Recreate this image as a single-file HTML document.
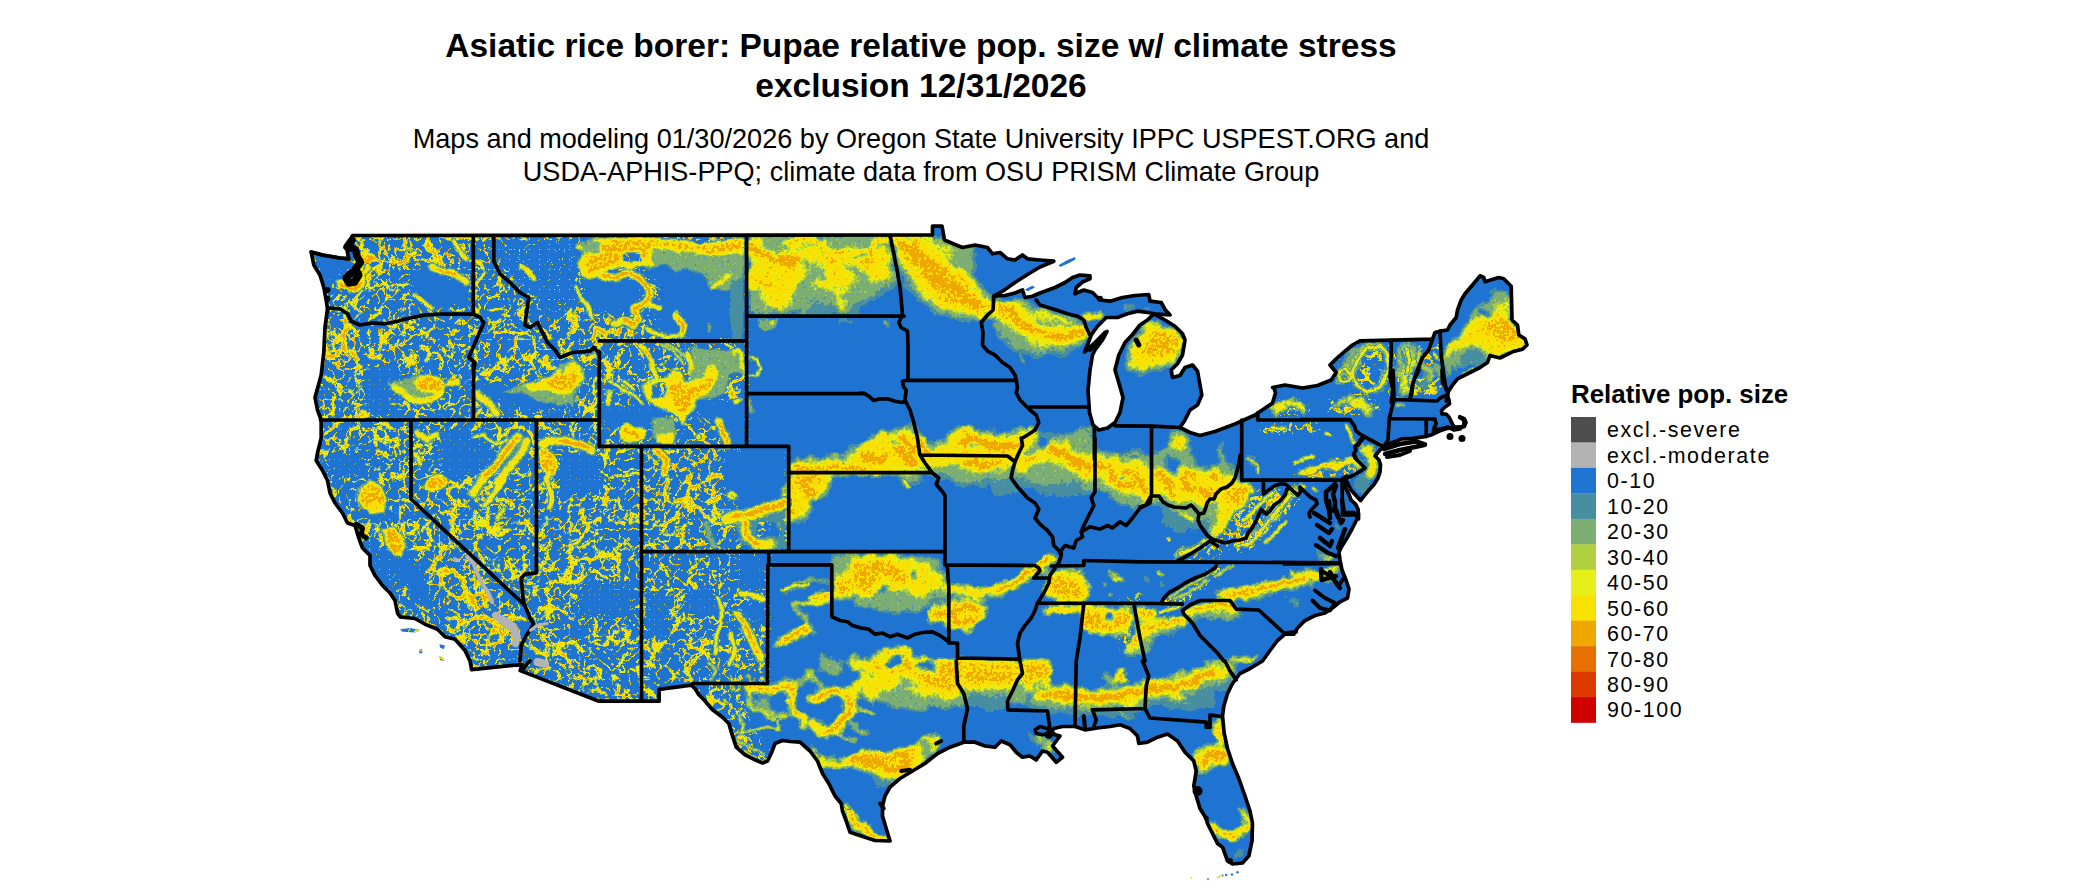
<!DOCTYPE html>
<html><head><meta charset="utf-8"><title>map</title>
<style>
html,body{margin:0;padding:0;background:#fff;}
body{width:2100px;height:892px;overflow:hidden;font-family:"Liberation Sans",sans-serif;}
svg{display:block}
text{font-family:"Liberation Sans",sans-serif;fill:#000}
.t1{font-weight:bold;font-size:33.5px;text-anchor:middle}
.t2{font-size:27.1px;text-anchor:middle}
.lt{font-weight:bold;font-size:25.9px}
.lg{font-size:21.4px;letter-spacing:1.6px}
</style></head><body>
<svg width="2100" height="892" viewBox="0 0 2100 892">
<defs><clipPath id="land"><path d="M352.5 235.5 L932.5 235.0 L932.5 226.2 L942.0 226.2 L944.5 240.0 L955.0 244.5 L962.5 247.5 L975.0 245.0 L987.5 247.5 L992.5 253.8 L1000.0 252.5 L1007.5 258.8 L1015.0 260.0 L1022.5 255.0 L1027.5 258.8 L1040.0 260.0 L1053.8 261.2 L1040.0 267.0 L1027.5 274.5 L1015.0 282.5 L1002.5 291.2 L993.8 296.2 L1005.0 295.5 L1015.0 293.0 L1022.5 290.0 L1025.0 297.5 L1032.5 296.2 L1040.0 293.0 L1055.0 287.5 L1065.0 282.5 L1072.5 277.5 L1080.0 275.0 L1090.0 275.8 L1090.0 278.8 L1082.5 282.0 L1076.2 287.5 L1075.0 293.8 L1083.8 290.0 L1092.5 292.5 L1100.0 300.0 L1110.0 301.2 L1122.5 297.5 L1135.0 295.5 L1148.8 294.5 L1150.0 301.2 L1161.2 302.5 L1165.0 309.5 L1170.0 315.0 L1155.0 313.8 L1147.5 312.5 L1137.5 311.2 L1127.5 313.8 L1117.5 317.5 L1106.2 317.5 L1102.5 321.2 L1097.5 326.2 L1091.2 335.0 L1087.5 345.0 L1084.5 352.0 L1092.5 345.0 L1100.0 337.5 L1107.0 331.5 L1102.5 340.0 L1095.0 350.0 L1092.5 355.0 L1090.0 370.0 L1088.0 390.0 L1089.5 412.5 L1093.0 425.0 L1098.8 430.0 L1107.5 428.0 L1115.0 422.5 L1120.0 412.5 L1123.0 397.5 L1119.5 385.0 L1115.0 370.0 L1118.8 355.0 L1125.0 342.5 L1132.5 334.5 L1140.0 325.0 L1147.5 320.0 L1153.8 313.8 L1165.0 320.0 L1175.0 326.2 L1182.5 333.8 L1185.0 340.0 L1182.5 355.0 L1177.5 363.8 L1171.2 370.0 L1172.5 377.5 L1180.0 375.5 L1185.0 367.5 L1192.5 365.0 L1197.5 371.2 L1200.0 385.0 L1201.8 395.0 L1197.5 405.0 L1190.0 410.0 L1185.0 420.0 L1180.0 427.5 L1190.0 432.5 L1200.0 435.5 L1215.0 431.5 L1235.0 424.0 L1255.0 415.0 L1272.5 403.0 L1275.5 393.0 L1273.8 387.5 L1272.5 387.5 L1285.0 385.0 L1302.5 388.0 L1317.5 385.5 L1331.2 380.0 L1336.2 372.5 L1330.0 365.0 L1336.2 358.8 L1345.0 351.2 L1352.5 345.0 L1360.0 340.8 L1432.5 339.2 L1435.0 332.5 L1440.0 331.2 L1447.5 330.0 L1450.0 325.0 L1456.2 317.5 L1457.5 310.0 L1461.2 300.0 L1465.0 293.8 L1472.5 285.0 L1480.0 275.8 L1483.8 277.5 L1485.0 281.8 L1498.8 277.5 L1503.8 278.8 L1511.2 286.2 L1512.0 320.0 L1517.5 325.0 L1518.8 335.0 L1525.0 338.8 L1527.0 345.0 L1522.5 349.2 L1512.5 351.8 L1500.0 358.0 L1490.0 355.5 L1487.5 362.5 L1480.0 367.5 L1470.0 372.5 L1465.0 375.0 L1457.5 378.8 L1452.5 385.0 L1447.5 393.0 L1446.2 401.2 L1447.5 395.5 L1449.0 400.0 L1449.5 404.0 L1445.0 407.0 L1441.5 410.5 L1442.0 414.0 L1446.0 414.0 L1449.0 417.0 L1451.0 421.0 L1452.5 424.5 L1454.5 427.0 L1460.0 427.5 L1464.0 426.5 L1465.5 423.0 L1464.0 419.0 L1460.0 417.5 L1464.0 420.0 L1464.0 425.0 L1460.0 429.0 L1454.0 430.0 L1450.0 428.0 L1445.0 429.0 L1440.0 430.8 L1433.0 434.2 L1426.2 436.4 L1413.0 438.4 L1402.0 438.8 L1396.0 441.2 L1388.0 443.8 L1383.5 446.5 L1380.0 450.0 L1375.0 456.0 L1379.0 460.0 L1380.5 465.0 L1380.0 472.0 L1378.0 478.0 L1374.0 484.5 L1369.0 490.0 L1364.0 496.0 L1360.5 500.5 L1356.0 495.5 L1351.0 490.0 L1348.0 484.0 L1345.5 479.5 L1344.5 484.0 L1346.0 489.0 L1349.0 494.5 L1351.0 500.0 L1355.5 504.2 L1358.0 509.0 L1358.5 515.0 L1358.5 519.0 L1358.5 513.0 L1356.5 520.0 L1352.0 529.0 L1347.0 538.0 L1342.0 546.0 L1339.0 552.0 L1340.0 560.0 L1342.0 570.0 L1346.0 580.0 L1349.0 589.0 L1347.5 598.0 L1340.0 601.8 L1332.5 608.0 L1325.0 613.0 L1315.0 615.5 L1305.0 620.5 L1297.5 628.0 L1293.8 634.2 L1285.0 634.2 L1277.5 640.5 L1270.0 650.5 L1262.5 661.0 L1250.0 668.5 L1240.0 673.5 L1232.5 683.5 L1227.5 693.5 L1223.8 706.0 L1222.5 716.0 L1224.2 733.5 L1227.5 748.5 L1232.5 763.5 L1238.8 778.5 L1245.0 796.0 L1250.0 811.0 L1252.5 823.5 L1252.0 841.0 L1248.8 856.0 L1242.5 863.0 L1232.5 864.0 L1227.5 861.0 L1222.5 847.2 L1217.5 843.5 L1212.5 833.5 L1207.5 823.5 L1206.2 818.5 L1200.0 808.5 L1196.2 796.0 L1193.8 786.0 L1196.2 771.0 L1193.8 761.0 L1185.0 752.2 L1177.5 741.0 L1167.5 734.0 L1157.5 737.2 L1147.5 742.2 L1138.8 743.5 L1137.5 736.0 L1130.0 728.5 L1120.0 724.8 L1110.0 726.5 L1097.5 728.0 L1085.0 729.8 L1075.0 726.5 L1062.5 726.5 L1053.8 728.5 L1050.0 733.5 L1060.0 736.0 L1052.5 746.0 L1062.5 757.2 L1056.2 762.2 L1047.5 752.2 L1042.5 751.0 L1036.2 759.8 L1030.0 756.0 L1022.5 757.2 L1016.2 752.2 L1010.0 744.8 L1001.2 741.0 L995.0 747.2 L985.0 746.0 L975.0 742.2 L963.8 742.2 L950.0 747.2 L937.5 753.5 L925.0 763.5 L912.5 771.0 L900.0 778.5 L890.0 787.2 L885.0 796.0 L882.5 806.0 L882.5 816.0 L886.2 828.5 L890.0 841.0 L875.0 840.5 L865.0 837.2 L850.0 832.2 L846.2 821.0 L842.5 811.0 L841.2 803.5 L835.0 796.0 L828.8 783.5 L822.5 773.5 L817.5 761.0 L810.0 751.0 L800.0 742.2 L790.0 741.5 L782.5 740.5 L775.0 743.5 L771.2 753.5 L767.5 761.0 L762.5 763.0 L755.0 759.8 L745.0 754.8 L736.2 747.2 L732.5 736.0 L728.8 723.5 L722.5 717.2 L712.5 709.8 L705.0 701.0 L698.8 694.8 L695.0 688.5 L691.2 685.2 L659.1 689.3 L659.1 701.2 L598.9 701.2 L520.2 670.6 L522.1 664.5 L471.6 669.6 L470.0 661.0 L465.0 650.5 L455.0 639.2 L445.0 636.8 L437.5 629.2 L425.0 624.2 L415.0 618.5 L400.0 616.8 L397.5 613.0 L395.0 600.5 L390.0 593.0 L382.5 585.5 L375.0 575.5 L370.0 565.5 L370.0 555.5 L362.5 548.0 L358.8 538.0 L355.0 525.5 L347.5 523.0 L342.5 513.0 L335.0 503.0 L330.0 493.0 L327.5 480.5 L322.5 470.5 L316.2 460.5 L317.5 453.0 L321.2 438.0 L321.2 420.0 L317.5 410.0 L315.0 397.5 L321.2 375.0 L323.8 352.5 L325.0 327.5 L327.5 308.8 L326.2 300.0 L323.8 287.5 L320.0 275.0 L313.8 265.0 L311.2 252.0 L322.5 255.0 L340.0 258.0 L348.8 258.8 L347.0 250.0 L350.0 241.2Z M1058.8 265.0 L1067.5 260.0 L1075.0 257.0 L1075.5 259.5 L1067.5 263.8 L1060.0 267.0Z M1025.0 289.5 L1032.5 285.5 L1035.0 287.5 L1027.5 291.2Z M400.0 629.2 L410.0 628.0 L420.0 630.0 L415.0 632.5 L402.5 631.8Z M418.8 650.0 L422.0 649.2 L422.5 653.0 L419.5 653.5Z M439.5 644.2 L445.0 645.5 L443.8 649.2 L440.0 647.5Z M439.5 656.0 L443.0 658.0 L444.5 661.0 L440.0 660.0Z"/></clipPath></defs>
<text x="921" y="57" class="t1">Asiatic rice borer: Pupae relative pop. size w/ climate stress</text>
<text x="921" y="97" class="t1">exclusion 12/31/2026</text>
<text x="921" y="147.6" class="t2">Maps and modeling 01/30/2026 by Oregon State University IPPC USPEST.ORG and</text>
<text x="921" y="181" class="t2">USDA-APHIS-PPQ; climate data from OSU PRISM Climate Group</text>
<path d="M352.5 235.5 L932.5 235.0 L932.5 226.2 L942.0 226.2 L944.5 240.0 L955.0 244.5 L962.5 247.5 L975.0 245.0 L987.5 247.5 L992.5 253.8 L1000.0 252.5 L1007.5 258.8 L1015.0 260.0 L1022.5 255.0 L1027.5 258.8 L1040.0 260.0 L1053.8 261.2 L1040.0 267.0 L1027.5 274.5 L1015.0 282.5 L1002.5 291.2 L993.8 296.2 L1005.0 295.5 L1015.0 293.0 L1022.5 290.0 L1025.0 297.5 L1032.5 296.2 L1040.0 293.0 L1055.0 287.5 L1065.0 282.5 L1072.5 277.5 L1080.0 275.0 L1090.0 275.8 L1090.0 278.8 L1082.5 282.0 L1076.2 287.5 L1075.0 293.8 L1083.8 290.0 L1092.5 292.5 L1100.0 300.0 L1110.0 301.2 L1122.5 297.5 L1135.0 295.5 L1148.8 294.5 L1150.0 301.2 L1161.2 302.5 L1165.0 309.5 L1170.0 315.0 L1155.0 313.8 L1147.5 312.5 L1137.5 311.2 L1127.5 313.8 L1117.5 317.5 L1106.2 317.5 L1102.5 321.2 L1097.5 326.2 L1091.2 335.0 L1087.5 345.0 L1084.5 352.0 L1092.5 345.0 L1100.0 337.5 L1107.0 331.5 L1102.5 340.0 L1095.0 350.0 L1092.5 355.0 L1090.0 370.0 L1088.0 390.0 L1089.5 412.5 L1093.0 425.0 L1098.8 430.0 L1107.5 428.0 L1115.0 422.5 L1120.0 412.5 L1123.0 397.5 L1119.5 385.0 L1115.0 370.0 L1118.8 355.0 L1125.0 342.5 L1132.5 334.5 L1140.0 325.0 L1147.5 320.0 L1153.8 313.8 L1165.0 320.0 L1175.0 326.2 L1182.5 333.8 L1185.0 340.0 L1182.5 355.0 L1177.5 363.8 L1171.2 370.0 L1172.5 377.5 L1180.0 375.5 L1185.0 367.5 L1192.5 365.0 L1197.5 371.2 L1200.0 385.0 L1201.8 395.0 L1197.5 405.0 L1190.0 410.0 L1185.0 420.0 L1180.0 427.5 L1190.0 432.5 L1200.0 435.5 L1215.0 431.5 L1235.0 424.0 L1255.0 415.0 L1272.5 403.0 L1275.5 393.0 L1273.8 387.5 L1272.5 387.5 L1285.0 385.0 L1302.5 388.0 L1317.5 385.5 L1331.2 380.0 L1336.2 372.5 L1330.0 365.0 L1336.2 358.8 L1345.0 351.2 L1352.5 345.0 L1360.0 340.8 L1432.5 339.2 L1435.0 332.5 L1440.0 331.2 L1447.5 330.0 L1450.0 325.0 L1456.2 317.5 L1457.5 310.0 L1461.2 300.0 L1465.0 293.8 L1472.5 285.0 L1480.0 275.8 L1483.8 277.5 L1485.0 281.8 L1498.8 277.5 L1503.8 278.8 L1511.2 286.2 L1512.0 320.0 L1517.5 325.0 L1518.8 335.0 L1525.0 338.8 L1527.0 345.0 L1522.5 349.2 L1512.5 351.8 L1500.0 358.0 L1490.0 355.5 L1487.5 362.5 L1480.0 367.5 L1470.0 372.5 L1465.0 375.0 L1457.5 378.8 L1452.5 385.0 L1447.5 393.0 L1446.2 401.2 L1447.5 395.5 L1449.0 400.0 L1449.5 404.0 L1445.0 407.0 L1441.5 410.5 L1442.0 414.0 L1446.0 414.0 L1449.0 417.0 L1451.0 421.0 L1452.5 424.5 L1454.5 427.0 L1460.0 427.5 L1464.0 426.5 L1465.5 423.0 L1464.0 419.0 L1460.0 417.5 L1464.0 420.0 L1464.0 425.0 L1460.0 429.0 L1454.0 430.0 L1450.0 428.0 L1445.0 429.0 L1440.0 430.8 L1433.0 434.2 L1426.2 436.4 L1413.0 438.4 L1402.0 438.8 L1396.0 441.2 L1388.0 443.8 L1383.5 446.5 L1380.0 450.0 L1375.0 456.0 L1379.0 460.0 L1380.5 465.0 L1380.0 472.0 L1378.0 478.0 L1374.0 484.5 L1369.0 490.0 L1364.0 496.0 L1360.5 500.5 L1356.0 495.5 L1351.0 490.0 L1348.0 484.0 L1345.5 479.5 L1344.5 484.0 L1346.0 489.0 L1349.0 494.5 L1351.0 500.0 L1355.5 504.2 L1358.0 509.0 L1358.5 515.0 L1358.5 519.0 L1358.5 513.0 L1356.5 520.0 L1352.0 529.0 L1347.0 538.0 L1342.0 546.0 L1339.0 552.0 L1340.0 560.0 L1342.0 570.0 L1346.0 580.0 L1349.0 589.0 L1347.5 598.0 L1340.0 601.8 L1332.5 608.0 L1325.0 613.0 L1315.0 615.5 L1305.0 620.5 L1297.5 628.0 L1293.8 634.2 L1285.0 634.2 L1277.5 640.5 L1270.0 650.5 L1262.5 661.0 L1250.0 668.5 L1240.0 673.5 L1232.5 683.5 L1227.5 693.5 L1223.8 706.0 L1222.5 716.0 L1224.2 733.5 L1227.5 748.5 L1232.5 763.5 L1238.8 778.5 L1245.0 796.0 L1250.0 811.0 L1252.5 823.5 L1252.0 841.0 L1248.8 856.0 L1242.5 863.0 L1232.5 864.0 L1227.5 861.0 L1222.5 847.2 L1217.5 843.5 L1212.5 833.5 L1207.5 823.5 L1206.2 818.5 L1200.0 808.5 L1196.2 796.0 L1193.8 786.0 L1196.2 771.0 L1193.8 761.0 L1185.0 752.2 L1177.5 741.0 L1167.5 734.0 L1157.5 737.2 L1147.5 742.2 L1138.8 743.5 L1137.5 736.0 L1130.0 728.5 L1120.0 724.8 L1110.0 726.5 L1097.5 728.0 L1085.0 729.8 L1075.0 726.5 L1062.5 726.5 L1053.8 728.5 L1050.0 733.5 L1060.0 736.0 L1052.5 746.0 L1062.5 757.2 L1056.2 762.2 L1047.5 752.2 L1042.5 751.0 L1036.2 759.8 L1030.0 756.0 L1022.5 757.2 L1016.2 752.2 L1010.0 744.8 L1001.2 741.0 L995.0 747.2 L985.0 746.0 L975.0 742.2 L963.8 742.2 L950.0 747.2 L937.5 753.5 L925.0 763.5 L912.5 771.0 L900.0 778.5 L890.0 787.2 L885.0 796.0 L882.5 806.0 L882.5 816.0 L886.2 828.5 L890.0 841.0 L875.0 840.5 L865.0 837.2 L850.0 832.2 L846.2 821.0 L842.5 811.0 L841.2 803.5 L835.0 796.0 L828.8 783.5 L822.5 773.5 L817.5 761.0 L810.0 751.0 L800.0 742.2 L790.0 741.5 L782.5 740.5 L775.0 743.5 L771.2 753.5 L767.5 761.0 L762.5 763.0 L755.0 759.8 L745.0 754.8 L736.2 747.2 L732.5 736.0 L728.8 723.5 L722.5 717.2 L712.5 709.8 L705.0 701.0 L698.8 694.8 L695.0 688.5 L691.2 685.2 L659.1 689.3 L659.1 701.2 L598.9 701.2 L520.2 670.6 L522.1 664.5 L471.6 669.6 L470.0 661.0 L465.0 650.5 L455.0 639.2 L445.0 636.8 L437.5 629.2 L425.0 624.2 L415.0 618.5 L400.0 616.8 L397.5 613.0 L395.0 600.5 L390.0 593.0 L382.5 585.5 L375.0 575.5 L370.0 565.5 L370.0 555.5 L362.5 548.0 L358.8 538.0 L355.0 525.5 L347.5 523.0 L342.5 513.0 L335.0 503.0 L330.0 493.0 L327.5 480.5 L322.5 470.5 L316.2 460.5 L317.5 453.0 L321.2 438.0 L321.2 420.0 L317.5 410.0 L315.0 397.5 L321.2 375.0 L323.8 352.5 L325.0 327.5 L327.5 308.8 L326.2 300.0 L323.8 287.5 L320.0 275.0 L313.8 265.0 L311.2 252.0 L322.5 255.0 L340.0 258.0 L348.8 258.8 L347.0 250.0 L350.0 241.2Z M1058.8 265.0 L1067.5 260.0 L1075.0 257.0 L1075.5 259.5 L1067.5 263.8 L1060.0 267.0Z M1025.0 289.5 L1032.5 285.5 L1035.0 287.5 L1027.5 291.2Z M400.0 629.2 L410.0 628.0 L420.0 630.0 L415.0 632.5 L402.5 631.8Z M418.8 650.0 L422.0 649.2 L422.5 653.0 L419.5 653.5Z M439.5 644.2 L445.0 645.5 L443.8 649.2 L440.0 647.5Z M439.5 656.0 L443.0 658.0 L444.5 661.0 L440.0 660.0Z" fill="#1f73d1"/>
<g clip-path="url(#land)">
<defs>
<g id="xsrc"><rect x="280" y="210" width="1280" height="682" fill="#000"/><path d="M1326.9 403.7 L1338.6 393.6 L1353.6 391.6 L1365.3 395.3 L1376.2 402.8 L1381.2 414.0 L1326.9 414.0Z" stroke="none" fill="rgb(255,255,255)"/><path d="M1270.1 405.3 L1290.2 398.6 L1310.2 407.0 L1311.0 414.0 L1270.1 414.0Z" stroke="none" fill="rgb(255,255,255)"/><path d="M300.0 225.0 L748.0 225.0 L748.0 448.0 L790.0 448.0 L790.0 552.0 L770.0 552.0 L770.0 690.0 L740.0 690.0 L760.0 740.0 L780.0 760.0 L760.0 790.0 L700.0 892.0 L300.0 892.0Z" stroke="none" fill="rgb(204,204,204)"/><path d="M770.0 560.0 L832.0 565.0 L832.0 620.0 L860.0 650.0 L860.0 700.0 L770.0 700.0Z" stroke="none" fill="rgb(0,0,0)"/><path d="M311.7 251.7 L341.8 256.7 L343.4 275.1 L333.4 283.5 L325.1 283.5 L318.4 266.8Z" stroke="none" fill="rgb(38,38,38)"/><path d="M415.3 271.8 L433.6 266.8 L450.4 278.5 L467.1 286.8 L470.4 308.5 L450.4 305.2 L437.0 308.5 L427.0 305.2 L416.9 295.2 L406.9 280.1Z" stroke="none" fill="rgb(26,26,26)"/><path d="M497.1 241.7 L574.0 240.0 L575.6 311.9 L550.6 318.6 L533.9 298.5 L517.2 280.1 L500.5 266.8Z" stroke="none" fill="rgb(84,84,84)"/><path d="M640.2 258.4 L743.8 255.1 L743.8 340.3 L687.0 340.3 L660.2 331.9 L653.6 311.9 L660.2 295.2 L650.2 275.1Z" stroke="none" fill="rgb(38,38,38)"/><path d="M583.4 280.1 L610.1 275.1 L640.2 281.8 L643.5 296.8 L626.8 308.5 L610.1 318.6 L593.4 315.2 L585.1 300.2Z" stroke="none" fill="rgb(26,26,26)"/><path d="M366.8 366.7 L393.6 366.7 L406.9 376.7 L390.2 383.4 L386.9 398.4 L393.6 415.1 L370.2 415.1 L363.5 393.4Z" stroke="none" fill="rgb(51,51,51)"/><path d="M477.1 380.0 L500.5 385.1 L523.9 391.7 L543.9 395.1 L560.6 400.1 L574.0 405.1 L560.6 410.1 L533.9 410.1 L510.5 406.8 L493.8 398.4 L480.4 390.1Z" stroke="none" fill="rgb(26,26,26)"/><path d="M440.3 430.2 L467.1 426.8 L473.7 440.2 L497.1 450.2 L490.4 463.6 L473.7 476.9 L450.4 480.3 L443.7 466.9 L440.3 446.9Z" stroke="none" fill="rgb(64,64,64)"/><path d="M560.6 453.6 L600.7 453.6 L600.7 493.6 L560.6 493.6Z" stroke="none" fill="rgb(51,51,51)"/><path d="M330.1 453.6 L363.5 453.6 L363.5 476.9 L330.1 476.9Z" stroke="none" fill="rgb(51,51,51)"/><path d="M601.7 406.8 L666.9 406.8 L666.9 426.8 L601.7 426.8Z" stroke="none" fill="rgb(38,38,38)"/><path d="M693.6 401.8 L744.6 401.8 L744.6 444.4 L730.4 444.4 L717.0 420.1 L696.9 416.8Z" stroke="none" fill="rgb(26,26,26)"/><path d="M723.7 448.5 L787.2 448.5 L787.2 509.0 L740.4 509.0 L723.7 487.0Z" stroke="none" fill="rgb(26,26,26)"/><path d="M393.6 555.1 L406.9 556.8 L420.3 570.2 L433.6 586.9 L440.3 600.2 L433.6 606.9 L420.3 600.2 L406.9 583.5 L396.9 570.2Z" stroke="none" fill="rgb(13,13,13)"/><path d="M366.8 510.0 L390.2 510.0 L390.2 523.4 L366.8 523.4Z" stroke="none" fill="rgb(51,51,51)"/><path d="M356.8 540.1 L393.6 550.1 L393.6 616.9 L373.5 600.2Z" stroke="none" fill="rgb(84,84,84)"/><path d="M580.7 583.5 L634.1 583.5 L634.1 616.9 L580.7 616.9Z" stroke="none" fill="rgb(64,64,64)"/><path d="M683.8 590.2 L717.2 590.2 L717.2 613.6 L683.8 613.6Z" stroke="none" fill="rgb(51,51,51)"/><path d="M737.2 553.4 L763.9 553.4 L763.9 590.2 L750.6 591.8 L737.2 583.5Z" stroke="none" fill="rgb(38,38,38)"/><path d="M740.6 603.5 L765.6 603.5 L765.6 626.9 L747.2 620.2Z" stroke="none" fill="rgb(38,38,38)"/><path d="M647.0 593.5 L667.1 593.5 L667.1 636.9 L647.0 636.9Z" stroke="none" fill="rgb(51,51,51)"/><path d="M353.5 238.4 L470.4 238.4 L470.4 268.4 L416.9 268.4 L400.2 280.1 L370.2 280.1 L355.1 266.8Z" stroke="none" fill="rgb(242,242,242)"/><path d="M328.4 315.2 L355.1 315.2 L355.1 374.0 L321.7 374.0Z" stroke="none" fill="rgb(242,242,242)"/><path d="M416.9 541.8 L467.1 555.1 L500.5 600.2 L517.2 616.9 L500.5 649.0 L450.4 633.6 L427.0 586.9Z" stroke="none" fill="rgb(242,242,242)"/><path d="M570.0 308.5 L636.8 318.6 L636.8 340.3 L600.1 340.3 L570.0 331.9Z" stroke="none" fill="rgb(242,242,242)"/><path d="M643.5 453.6 L722.0 453.6 L722.0 509.0 L643.5 509.0Z" stroke="none" fill="rgb(242,242,242)"/><path d="M1292.2 478.5 L1300.5 468.5 L1313.9 463.1 L1325.6 459.8 L1340.6 456.5 L1355.6 454.8 L1364.8 462.6 L1366.5 469.3 L1355.6 475.5 L1345.6 478.5Z" stroke="none" fill="rgb(255,255,255)"/><path d="M1262.1 420.9 L1318.9 422.6 L1318.9 435.1 L1262.1 434.2Z" stroke="none" fill="rgb(255,255,255)"/><path d="M1213.6 542.0 L1223.7 516.9 L1240.4 500.2 L1263.8 486.9 L1300.5 483.5 L1303.9 493.6 L1287.2 513.6 L1267.1 533.6 L1253.7 549.0 L1213.6 549.0Z" stroke="none" fill="rgb(242,242,242)"/><path d="M1160.2 603.5 L1173.6 590.1 L1196.9 578.4 L1218.7 561.7 L1230.4 565.1 L1213.6 583.4 L1196.9 595.1 L1180.2 605.2 L1163.5 610.2Z" stroke="none" fill="rgb(230,230,230)"/><path d="M1173.6 556.7 L1196.9 543.3 L1213.6 540.0 L1253.7 540.0 L1247.1 550.0 L1223.7 553.4 L1196.9 560.0 L1180.2 563.4Z" stroke="none" fill="rgb(230,230,230)"/><path d="M1394.6 343.5 L1442.2 343.5 L1442.2 395.3 L1394.6 398.6Z" stroke="none" fill="rgb(242,242,242)"/><path d="M1336.9 343.5 L1392.1 343.5 L1392.1 395.3 L1336.9 381.9Z" stroke="none" fill="rgb(204,204,204)"/><path d="M1116.8 603.5 L1136.8 590.1 L1143.5 595.1 L1135.1 610.2 L1130.1 646.9 L1123.4 656.9 L1118.4 633.6Z" stroke="none" fill="rgb(217,217,217)"/></g>

<filter id="fb" x="280" y="210" width="1280" height="682" filterUnits="userSpaceOnUse" color-interpolation-filters="sRGB">
  <feGaussianBlur in="SourceGraphic" stdDeviation="5.0" result="b0"/>
  <feTurbulence type="fractalNoise" baseFrequency="0.07" numOctaves="3" seed="11" result="t2"/>
  <feDisplacementMap in="b0" in2="t2" scale="14" xChannelSelector="R" yChannelSelector="G" result="b"/>
  <feTurbulence type="fractalNoise" baseFrequency="0.33" numOctaves="2" seed="3" result="n"/>
  <feColorMatrix in="n" type="matrix" values="0 0 0 0 0  0 0 0 0 0  0 0 0 0 0  1 0 0 0 0" result="na"/>
  <feColorMatrix in="b" type="matrix" values="1 0 0 0 0  1 0 0 0 0  1 0 0 0 0  1 0 0 0 0" result="ba"/>
  <feComposite in="ba" in2="na" operator="arithmetic" k1="0.9" k2="0.55" k3="0" k4="0" result="v"/>
  <feColorMatrix in="v" type="matrix" values="0 0 0 1 0  0 0 0 1 0  0 0 0 1 0  0 0 0 1 0" result="g"/>
  <feComponentTransfer in="g">
    <feFuncR type="discrete" tableValues="0.12 0.28 0.49 0.69 0.90 0.98 0.98 0.94 0.94 0.94"/>
    <feFuncG type="discrete" tableValues="0.45 0.56 0.68 0.81 0.94 0.88 0.88 0.66 0.66 0.66"/>
    <feFuncB type="discrete" tableValues="0.82 0.63 0.45 0.25 0.09 0.00 0.00 0.00 0.00 0.00"/>
    <feFuncA type="discrete" tableValues="0 1 1 1 1 1 1 1 1 1"/>
  </feComponentTransfer>
</filter>

<filter id="fm" x="280" y="210" width="1280" height="682" filterUnits="userSpaceOnUse" color-interpolation-filters="sRGB">
  <feGaussianBlur in="SourceGraphic" stdDeviation="2.2" result="b0"/>
  <feTurbulence type="fractalNoise" baseFrequency="0.07" numOctaves="3" seed="11" result="t2"/>
  <feDisplacementMap in="b0" in2="t2" scale="12" xChannelSelector="R" yChannelSelector="G" result="b"/>
  <feTurbulence type="fractalNoise" baseFrequency="0.33" numOctaves="2" seed="4" result="n"/>
  <feColorMatrix in="n" type="matrix" values="0 0 0 0 0  0 0 0 0 0  0 0 0 0 0  1 0 0 0 0" result="na"/>
  <feColorMatrix in="b" type="matrix" values="1 0 0 0 0  1 0 0 0 0  1 0 0 0 0  1 0 0 0 0" result="ba"/>
  <feComposite in="ba" in2="na" operator="arithmetic" k1="0.9" k2="0.55" k3="0" k4="0" result="v"/>
  <feColorMatrix in="v" type="matrix" values="0 0 0 1 0  0 0 0 1 0  0 0 0 1 0  0 0 0 1 0" result="g"/>
  <feComponentTransfer in="g">
    <feFuncR type="discrete" tableValues="0.12 0.28 0.49 0.69 0.90 0.98 0.98 0.94 0.94 0.94"/>
    <feFuncG type="discrete" tableValues="0.45 0.56 0.68 0.81 0.94 0.88 0.88 0.66 0.66 0.66"/>
    <feFuncB type="discrete" tableValues="0.82 0.63 0.45 0.25 0.09 0.00 0.00 0.00 0.00 0.00"/>
    <feFuncA type="discrete" tableValues="0 1 1 1 1 1 1 1 1 1"/>
  </feComponentTransfer>
</filter>

<filter id="fw" x="280" y="210" width="1280" height="682" filterUnits="userSpaceOnUse" color-interpolation-filters="sRGB">
  <feGaussianBlur in="SourceGraphic" stdDeviation="1.1" result="b0"/>
  <feTurbulence type="fractalNoise" baseFrequency="0.07" numOctaves="3" seed="11" result="t2"/>
  <feDisplacementMap in="b0" in2="t2" scale="5" xChannelSelector="R" yChannelSelector="G" result="b"/>
  <feTurbulence type="fractalNoise" baseFrequency="0.33" numOctaves="2" seed="5" result="n"/>
  <feColorMatrix in="n" type="matrix" values="0 0 0 0 0  0 0 0 0 0  0 0 0 0 0  1 0 0 0 0" result="na"/>
  <feColorMatrix in="b" type="matrix" values="1 0 0 0 0  1 0 0 0 0  1 0 0 0 0  1 0 0 0 0" result="ba"/>
  <feComposite in="ba" in2="na" operator="arithmetic" k1="0.9" k2="0.55" k3="0" k4="0" result="v"/>
  <feColorMatrix in="v" type="matrix" values="0 0 0 1 0  0 0 0 1 0  0 0 0 1 0  0 0 0 1 0" result="g"/>
  <feComponentTransfer in="g">
    <feFuncR type="discrete" tableValues="0.12 0.28 0.49 0.69 0.90 0.98 0.98 0.94 0.94 0.94"/>
    <feFuncG type="discrete" tableValues="0.45 0.56 0.68 0.81 0.94 0.88 0.88 0.66 0.66 0.66"/>
    <feFuncB type="discrete" tableValues="0.82 0.63 0.45 0.25 0.09 0.00 0.00 0.00 0.00 0.00"/>
    <feFuncA type="discrete" tableValues="0 1 1 1 1 1 1 1 1 1"/>
  </feComponentTransfer>
</filter>

<filter id="fx" x="280" y="210" width="1280" height="682" filterUnits="userSpaceOnUse" color-interpolation-filters="sRGB">
  <feGaussianBlur in="SourceGraphic" stdDeviation="3" result="b0"/>
  <feColorMatrix in="b0" type="matrix" values="1 0 0 0 0  1 0 0 0 0  1 0 0 0 0  1 0 0 0 0" result="ba"/>
  <feTurbulence type="turbulence" baseFrequency="0.042" numOctaves="4" seed="5" result="t"/>
  <feColorMatrix in="t" type="matrix" values="0 0 0 0 0  0 0 0 0 0  0 0 0 0 0  1 0 0 0 0" result="ta"/>
  <feComposite in="ba" in2="ta" operator="arithmetic" k1="0" k2="1" k3="-3.1" k4="0" result="v"/>
  <feColorMatrix in="v" type="matrix" values="0 0 0 1 0  0 0 0 1 0  0 0 0 1 0  0 0 0 1 0" result="g"/>
  <feComponentTransfer in="g">
    <feFuncR type="discrete" tableValues="0.12 0.12 0.49 0.90 0.98 0.98 0.94 0.94 0.94 0.94"/>
    <feFuncG type="discrete" tableValues="0.45 0.45 0.68 0.94 0.88 0.88 0.66 0.66 0.66 0.66"/>
    <feFuncB type="discrete" tableValues="0.82 0.82 0.45 0.09 0.00 0.00 0.00 0.00 0.00 0.00"/>
    <feFuncA type="discrete" tableValues="0 0 1 1 1 1 1 1 1 1"/>
  </feComponentTransfer>
</filter>

<filter id="fx2" x="280" y="210" width="1280" height="682" filterUnits="userSpaceOnUse" color-interpolation-filters="sRGB">
  <feGaussianBlur in="SourceGraphic" stdDeviation="3" result="b0"/>
  <feColorMatrix in="b0" type="matrix" values="1 0 0 0 0  1 0 0 0 0  1 0 0 0 0  1 0 0 0 0" result="ba"/>
  <feTurbulence type="turbulence" baseFrequency="0.1" numOctaves="2" seed="9" result="t"/>
  <feColorMatrix in="t" type="matrix" values="0 0 0 0 0  0 0 0 0 0  0 0 0 0 0  1 0 0 0 0" result="ta"/>
  <feComposite in="ba" in2="ta" operator="arithmetic" k1="0" k2="1" k3="-5.2" k4="0" result="v"/>
  <feColorMatrix in="v" type="matrix" values="0 0 0 1 0  0 0 0 1 0  0 0 0 1 0  0 0 0 1 0" result="g"/>
  <feComponentTransfer in="g">
    <feFuncR type="discrete" tableValues="0.12 0.12 0.49 0.90 0.98 0.98 0.94 0.94 0.94 0.94"/>
    <feFuncG type="discrete" tableValues="0.45 0.45 0.68 0.94 0.88 0.88 0.66 0.66 0.66 0.66"/>
    <feFuncB type="discrete" tableValues="0.82 0.82 0.45 0.09 0.00 0.00 0.00 0.00 0.00 0.00"/>
    <feFuncA type="discrete" tableValues="0 0 1 1 1 1 1 1 1 1"/>
  </feComponentTransfer>
</filter>
</defs>
<use href="#xsrc" filter="url(#fx2)"/>
<use href="#xsrc" filter="url(#fx)"/>
<g filter="url(#fb)" stroke-linecap="round" stroke-linejoin="round">
<rect x="280" y="210" width="1280" height="682" fill="#000"/>
</g>
<g filter="url(#fm)" stroke-linecap="round" stroke-linejoin="round">
<rect x="280" y="210" width="1280" height="682" fill="#000"/>
<path d="M747.5 235.5 L890.6 235.5 L898.2 278.2 L899.4 285.7 L888.1 294.5 L875.6 300.8 L864.3 308.3 L856.7 315.9 L747.5 315.9Z" stroke="none" fill="rgb(38,38,38)"/>
<path d="M747.5 235.5 L890.6 235.5 L894.4 265.7 L896.9 277.0 L884.4 287.0 L871.8 294.5 L860.5 302.1 L853.0 310.9 L835.4 312.1 L827.9 307.1 L820.3 297.0 L810.3 302.1 L802.8 310.9 L747.5 313.4Z" stroke="none" fill="rgb(64,64,64)"/>
<path d="M747.5 265.7 L758.8 263.1 L771.4 260.6 L783.9 265.7 L800.3 269.4 L810.3 265.7 L805.3 275.7 L799.0 278.2 L794.0 284.5 L790.2 293.3 L787.7 303.3 L777.7 308.3 L768.9 304.6 L762.6 295.8 L760.1 288.3 L752.6 287.0 L747.5 288.3Z" stroke="none" fill="rgb(148,148,148)"/>
<path d="M747.5 239.3 L762.6 239.3 L761.3 245.6 L765.1 253.1 L777.7 256.9 L781.4 253.1 L790.2 246.8 L800.3 246.8 L815.3 248.1 L825.4 254.4 L835.4 263.1 L844.2 265.7 L850.5 270.7 L853.0 280.7 L850.5 287.0 L840.4 285.7 L830.4 284.5 L820.3 287.0 L812.8 283.2 L825.4 278.2 L826.6 271.9 L820.3 265.7 L812.8 260.6 L805.3 254.4 L800.3 260.6 L787.7 265.7 L771.4 260.6 L758.8 263.1 L747.5 259.4Z" stroke="none" fill="rgb(148,148,148)"/>
<path d="M859.3 265.7 L865.5 260.6 L873.1 258.1 L878.1 249.3 L886.9 250.6 L888.1 265.7 L891.9 273.2 L884.4 278.2 L876.8 283.2 L870.6 282.0 L865.5 274.4Z" stroke="none" fill="rgb(148,148,148)"/>
<path d="M763.9 241.8 L781.4 241.8 L782.7 250.6 L772.6 254.4 L765.1 250.6Z" stroke="none" fill="rgb(64,64,64)"/>
<path d="M786.4 243.1 L796.5 240.6 L809.0 239.9 L821.6 243.1 L827.9 250.6 L837.9 254.4 L846.7 251.9 L859.3 250.6 L871.8 253.1 L875.6 243.1 L878.1 238.7 L889.4 239.3" fill="none" stroke-width="4.0" stroke="rgb(224,224,224)"/>
<path d="M825.4 255.6 L835.4 261.9 L846.7 259.4 L859.3 261.9 L868.0 264.4 L873.1 256.9" fill="none" stroke-width="3.6" stroke="rgb(224,224,224)"/>
<path d="M748.8 246.8 L756.3 249.3 L765.1 255.6 L777.7 259.4 L790.2 258.1 L800.3 260.6 L792.7 265.7 L785.2 264.4" fill="none" stroke-width="5.5" stroke="rgb(224,224,224)"/>
<path d="M839.2 293.3 L840.4 303.3 L839.2 309.6" fill="none" stroke-width="4.0" stroke="rgb(148,148,148)"/>
<path d="M815.3 285.7 L827.9 288.3 L837.9 290.8 L848.0 289.5" fill="none" stroke-width="3.0" stroke="rgb(148,148,148)"/>
<path d="M761.3 282.0 L768.9 285.7" fill="none" stroke-width="4.0" stroke="rgb(224,224,224)"/>
<path d="M893.0 236.2 L955.0 236.2 L975.0 245.0 L980.0 265.0 L975.0 277.5 L987.5 290.0 L993.8 297.5 L993.8 320.0 L975.0 322.5 L955.0 322.5 L932.5 315.0 L915.0 300.0 L901.2 280.0 L895.0 257.5Z" stroke="none" fill="rgb(38,38,38)"/>
<path d="M893.5 237.5 L950.0 237.5 L970.0 246.2 L975.0 265.0 L970.0 277.5 L982.5 290.0 L993.0 298.8 L993.0 316.2 L975.0 318.0 L955.0 317.5 L935.0 310.0 L917.5 295.0 L905.0 277.5 L897.5 257.5Z" stroke="none" fill="rgb(64,64,64)"/>
<path d="M893.0 237.0 L922.5 237.5 L945.0 257.5 L970.0 280.0 L980.0 297.5 L990.0 300.0 L993.0 315.0 L965.0 313.0 L945.0 308.0 L925.0 297.5 L910.0 275.0 L896.2 252.5Z" stroke="none" fill="rgb(148,148,148)"/>
<path d="M894.5 238.8 L915.0 241.2 L932.5 261.2 L955.0 275.0 L970.0 287.5 L977.5 302.5 L990.0 307.0 L988.8 312.5 L965.0 308.0 L945.0 298.8 L930.0 286.2 L920.0 271.2 L905.0 257.5Z" stroke="none" fill="rgb(184,184,184)"/>
<path d="M897.5 241.2 L915.0 252.5 L927.5 270.0 L945.0 285.0 L965.0 297.5 L980.0 307.5" fill="none" stroke-width="4.0" stroke="rgb(224,224,224)"/>
<path d="M915.0 243.8 L930.0 265.0 L950.0 277.5" fill="none" stroke-width="3.0" stroke="rgb(224,224,224)"/>
<path d="M927.5 240.0 L940.0 247.5 L950.0 255.0" fill="none" stroke-width="6.0" stroke="rgb(115,115,115)"/>
<path d="M993.8 300.0 L1015.0 297.5 L1030.0 300.0 L1040.0 310.0 L1065.0 312.5 L1080.0 317.5 L1087.5 325.0 L1088.8 340.0 L1080.0 350.0 L1060.0 357.5 L1040.0 357.5 L1020.0 355.0 L1005.0 345.0 L993.8 332.5Z" stroke="none" fill="rgb(38,38,38)"/>
<path d="M993.8 302.5 L1015.0 301.2 L1027.5 305.0 L1040.0 315.0 L1065.0 317.5 L1077.5 320.0 L1086.2 327.5 L1086.2 340.0 L1077.5 346.2 L1060.0 352.5 L1040.0 352.0 L1020.0 348.8 L1007.5 340.0 L993.8 325.0Z" stroke="none" fill="rgb(64,64,64)"/>
<path d="M993.8 301.2 L1012.5 301.2 L1022.5 310.0 L1035.0 320.0 L1050.0 325.0 L1065.0 327.5 L1080.0 325.0 L1087.5 322.5 L1087.5 332.5 L1082.5 340.0 L1065.0 345.0 L1050.0 346.2 L1035.0 342.5 L1022.5 337.5 L1012.5 327.5 L1002.5 320.0 L993.8 317.5Z" stroke="none" fill="rgb(148,148,148)"/>
<path d="M996.2 307.0 L1012.5 310.0 L1020.0 320.0 L1032.5 330.0 L1047.5 335.5 L1065.0 337.5 L1080.0 332.5" fill="none" stroke-width="5.0" stroke="rgb(224,224,224)"/>
<path d="M1000.0 312.5 L1012.5 320.0 L1022.5 330.0" fill="none" stroke-width="5.0" stroke="rgb(184,184,184)"/>
<path d="M1037.5 320.0 L1050.0 323.0 L1065.0 324.0" fill="none" stroke-width="6.0" stroke="rgb(64,64,64)"/>
<path d="M1030.0 315.0 L1040.0 313.8 L1055.0 317.5 L1067.5 320.0" fill="none" stroke-width="4.0" stroke="rgb(148,148,148)"/>
<path d="M1086.2 315.0 L1095.0 313.8 L1102.5 317.5" fill="none" stroke-width="5.0" stroke="rgb(148,148,148)"/>
<path d="M1087.5 316.2 L1097.5 315.0" fill="none" stroke-width="3.0" stroke="rgb(224,224,224)"/>
<path d="M1122.5 308.0 L1131.2 308.0" fill="none" stroke-width="5.0" stroke="rgb(64,64,64)"/>
<path d="M1145.0 306.2 L1151.2 306.2" fill="none" stroke-width="4.0" stroke="rgb(64,64,64)"/>
<path d="M1161.2 303.8 L1165.0 302.5" fill="none" stroke-width="4.0" stroke="rgb(64,64,64)"/>
<path d="M1172.5 313.8 L1178.8 315.0" fill="none" stroke-width="3.0" stroke="rgb(148,148,148)"/>
<path d="M1140.0 325.0 L1152.5 320.0 L1170.0 323.8 L1182.5 333.8 L1185.0 345.0 L1182.5 360.0 L1172.5 367.5 L1157.5 371.2 L1145.0 377.5 L1135.0 378.8 L1125.0 370.0 L1122.5 355.0 L1130.0 340.0Z" stroke="none" fill="rgb(38,38,38)"/>
<path d="M1140.0 327.5 L1152.5 322.5 L1167.5 325.0 L1180.0 333.8 L1183.0 345.0 L1180.5 357.5 L1171.2 364.5 L1157.5 368.0 L1145.0 373.8 L1136.2 375.0 L1128.0 367.5 L1126.2 356.2 L1132.5 342.5Z" stroke="none" fill="rgb(64,64,64)"/>
<path d="M1140.0 332.5 L1151.2 325.0 L1165.0 327.0 L1177.5 334.5 L1181.2 343.8 L1178.8 355.0 L1170.0 361.2 L1158.8 363.8 L1147.5 368.0 L1138.8 370.0 L1132.0 363.8 L1133.0 355.0 L1137.5 345.0Z" stroke="none" fill="rgb(148,148,148)"/>
<path d="M1147.5 337.5 L1157.5 331.2 L1170.0 333.8 L1177.5 341.2 L1175.0 351.2 L1165.0 356.2 L1155.0 355.0 L1150.0 360.0 L1142.5 357.5 L1145.0 347.5Z" stroke="none" fill="rgb(184,184,184)"/>
<path d="M842.5 321.2 L850.0 322.5" fill="none" stroke-width="4.0" stroke="rgb(64,64,64)"/>
<path d="M885.0 321.2 L888.8 322.5" fill="none" stroke-width="3.0" stroke="rgb(64,64,64)"/>
<path d="M1277.5 407.5 L1290.0 402.5 L1302.5 407.5" fill="none" stroke-width="5.0" stroke="rgb(148,148,148)"/>
<path d="M1277.5 408.8 L1290.0 405.0 L1302.5 408.8" fill="none" stroke-width="8.0" stroke="rgb(64,64,64)"/>
<path d="M1277.5 407.5 L1290.0 403.0 L1302.5 407.0" fill="none" stroke-width="4.0" stroke="rgb(148,148,148)"/>
<path d="M786.7 473.5 L795.0 456.8 L820.1 455.1 L843.5 455.1 L858.5 443.4 L863.5 436.8 L880.2 431.7 L896.9 426.7 L910.3 425.1 L913.6 416.7 L918.7 430.1 L927.0 441.8 L937.0 443.4 L947.1 433.4 L957.1 425.1 L970.4 423.4 L980.5 428.4 L997.2 431.7 L1010.5 428.4 L1025.6 425.1 L1035.6 426.7 L1040.6 431.7 L1055.6 435.1 L1074.0 433.4 L1085.7 423.4 L1094.1 418.4 L1094.1 493.6 L1077.4 495.2 L1060.7 496.9 L1047.3 498.6 L1030.6 490.2 L1013.9 493.6 L1000.5 498.6 L988.8 486.9 L973.8 485.2 L957.1 488.5 L943.7 480.2 L930.4 476.8 L917.0 485.2 L903.6 488.5 L896.9 478.5 L873.6 476.8 L850.2 478.5 L835.1 480.2 L828.4 496.9 L813.4 503.6 L810.1 516.9 L796.7 527.0 L780.0 528.6 L780.0 493.6 L785.0 480.2Z" stroke="none" fill="rgb(38,38,38)"/>
<path d="M787.5 474.3 L795.9 459.3 L820.1 456.8 L844.3 456.8 L859.4 445.1 L864.4 438.4 L880.2 433.4 L896.9 428.7 L910.3 427.1 L913.6 421.7 L917.8 431.7 L926.2 443.4 L937.0 445.4 L947.9 435.4 L957.4 426.7 L970.4 425.1 L980.5 430.1 L997.2 433.4 L1010.5 430.1 L1025.6 426.7 L1034.8 428.4 L1039.8 433.4 L1055.6 436.8 L1074.0 435.4 L1085.7 425.9 L1094.1 421.7 L1094.1 486.9 L1077.4 483.5 L1064.0 480.2 L1047.3 486.9 L1033.9 480.2 L1020.6 478.5 L1010.5 473.5 L1000.5 481.9 L988.8 480.2 L973.8 480.2 L960.4 481.9 L947.1 475.2 L930.4 474.3 L913.6 481.0 L903.6 484.4 L896.9 476.0 L873.6 475.5 L850.2 476.5 L833.5 478.5 L826.8 494.4 L811.7 501.9 L808.4 515.3 L795.9 524.5 L780.0 526.1 L780.0 496.1 L785.8 481.9Z" stroke="none" fill="rgb(64,64,64)"/>
<path d="M787.5 474.8 L835.1 474.8 L826.8 483.5 L818.4 493.6 L810.1 500.2 L805.1 508.6 L801.7 516.9 L793.4 522.0 L780.0 523.6 L780.0 501.9 L787.5 493.6Z" stroke="none" fill="rgb(148,148,148)"/>
<path d="M790.0 470.2 L796.7 463.5 L821.8 458.5 L843.5 461.8 L855.2 465.2 L873.6 466.8 L896.9 468.5 L923.7 470.2 L927.0 473.5 L873.6 474.3 L787.5 474.3Z" stroke="none" fill="rgb(148,148,148)"/>
<path d="M846.8 463.5 L860.2 448.4 L865.2 440.1 L880.2 435.9 L895.3 433.4 L907.0 430.1 L913.6 431.7 L918.7 440.1 L925.3 448.4 L933.7 451.8 L940.4 450.1 L948.7 443.4 L955.4 433.4 L960.4 428.4 L972.1 427.6 L980.5 433.4 L995.5 436.8 L1010.5 433.4 L1023.9 430.1 L1033.9 431.7 L1037.3 438.4 L1030.6 445.1 L1020.6 450.1 L1018.9 455.1 L1027.2 456.8 L1037.3 450.1 L1047.3 448.4 L1055.6 443.4 L1064.0 441.8 L1074.0 450.1 L1085.7 455.1 L1094.1 456.8 L1094.1 480.2 L1080.7 475.2 L1067.3 468.5 L1055.6 461.8 L1047.3 460.1 L1038.9 461.8 L1030.6 466.8 L1023.9 471.8 L1017.2 470.2 L1013.9 463.5 L1007.2 463.5 L1003.9 468.5 L990.5 471.8 L975.5 471.0 L962.1 466.8 L947.1 463.5 L930.4 465.2 L917.0 466.8 L896.9 466.8 L873.6 466.8 L855.2 466.8Z" stroke="none" fill="rgb(148,148,148)"/>
<path d="M890.3 438.4 L900.3 437.6 L901.1 445.1 L891.9 445.9Z" stroke="none" fill="rgb(64,64,64)"/>
<path d="M970.4 441.8 L978.8 441.8 L979.6 448.4 L971.3 449.3Z" stroke="none" fill="rgb(64,64,64)"/>
<path d="M1036.4 437.6 L1049.0 437.6 L1049.8 445.1 L1037.3 445.9Z" stroke="none" fill="rgb(0,0,0)"/>
<path d="M863.5 456.8 L873.6 458.5 L886.9 456.8" fill="none" stroke-width="5.0" stroke="rgb(224,224,224)"/>
<path d="M900.3 435.9 L907.0 443.4 L913.6 450.1" fill="none" stroke-width="6.0" stroke="rgb(224,224,224)"/>
<path d="M918.7 439.3 L925.3 448.4 L930.4 453.8" fill="none" stroke-width="5.0" stroke="rgb(224,224,224)"/>
<path d="M896.9 450.1 L907.0 456.8 L913.6 462.1" fill="none" stroke-width="6.0" stroke="rgb(224,224,224)"/>
<path d="M962.1 441.8 L967.1 438.4 L980.5 438.4 L988.8 445.1 L1002.2 448.4 L1017.2 446.8" fill="none" stroke-width="7.0" stroke="rgb(224,224,224)"/>
<path d="M963.8 463.8 L988.8 465.5 L1002.2 463.8" fill="none" stroke-width="4.0" stroke="rgb(224,224,224)"/>
<path d="M1054.0 450.1 L1064.0 453.5 L1074.0 461.8 L1085.7 468.5 L1093.7 473.5" fill="none" stroke-width="8.0" stroke="rgb(224,224,224)"/>
<path d="M1027.2 460.5 L1037.3 455.5" fill="none" stroke-width="4.0" stroke="rgb(224,224,224)"/>
<path d="M795.0 468.5 L830.1 466.8 L866.9 467.7" fill="none" stroke-width="3.4" stroke="rgb(224,224,224)"/>
<path d="M796.7 478.5 L806.7 486.9 L811.7 493.6" fill="none" stroke-width="5.0" stroke="rgb(224,224,224)"/>
<path d="M800.0 480.2 L820.1 478.9" fill="none" stroke-width="4.0" stroke="rgb(224,224,224)"/>
<path d="M780.0 506.9 L790.0 513.6" fill="none" stroke-width="7.0" stroke="rgb(224,224,224)"/>
<path d="M1080.0 426.7 L1093.4 428.4 L1095.0 446.8 L1108.4 450.1 L1121.8 453.5 L1130.1 448.4 L1151.0 453.5 L1153.5 448.4 L1166.9 445.1 L1170.2 431.7 L1180.2 428.4 L1190.3 435.9 L1191.9 455.1 L1196.9 465.2 L1213.6 463.5 L1218.7 441.8 L1224.5 443.4 L1227.0 463.5 L1237.0 470.2 L1240.4 483.5 L1253.7 481.9 L1255.4 491.0 L1248.7 501.9 L1240.4 508.6 L1230.4 515.3 L1225.3 522.0 L1220.3 532.0 L1213.6 540.3 L1208.6 533.6 L1207.0 520.3 L1196.9 532.0 L1180.2 532.0 L1163.5 527.0 L1158.5 516.9 L1158.5 506.9 L1150.2 505.2 L1136.8 508.6 L1126.8 505.2 L1113.4 501.9 L1101.7 491.9 L1093.4 491.9 L1080.0 491.9Z" stroke="none" fill="rgb(38,38,38)"/>
<path d="M1080.0 429.2 L1092.5 430.1 L1094.7 449.3 L1108.4 452.1 L1121.8 455.5 L1130.1 450.5 L1151.0 455.5 L1154.3 450.1 L1167.2 447.1 L1171.0 433.7 L1180.2 430.4 L1188.6 437.1 L1190.3 455.5 L1195.3 466.8 L1213.6 465.5 L1219.5 444.3 L1223.3 445.1 L1225.3 465.2 L1236.2 471.8 L1238.7 481.9 L1252.1 483.2 L1253.7 490.2 L1247.1 500.2 L1240.4 506.9 L1230.4 513.6 L1223.7 520.3 L1218.7 530.3 L1213.6 537.8 L1210.3 533.6 L1208.6 516.9 L1195.3 520.3 L1183.6 516.9 L1160.2 501.9 L1150.2 502.7 L1136.8 506.1 L1126.8 502.7 L1113.4 499.4 L1102.6 489.4 L1093.4 489.4 L1080.0 489.4Z" stroke="none" fill="rgb(64,64,64)"/>
<path d="M1080.0 455.1 L1093.4 455.1 L1095.9 453.5 L1106.7 458.5 L1116.8 455.1 L1123.4 463.5 L1136.8 461.8 L1146.8 466.8 L1153.5 473.5 L1160.2 466.8 L1166.9 471.8 L1173.6 478.5 L1180.2 473.5 L1186.9 466.8 L1196.9 470.2 L1207.0 473.5 L1213.6 468.5 L1222.0 475.2 L1230.4 480.2 L1237.0 473.5 L1240.4 483.5 L1252.1 483.5 L1253.7 490.2 L1247.1 500.2 L1240.4 506.9 L1230.4 513.6 L1223.7 520.3 L1218.7 530.3 L1213.6 538.7 L1211.1 533.6 L1217.0 520.3 L1220.3 510.3 L1217.0 503.6 L1213.6 500.2 L1207.0 506.9 L1196.9 503.6 L1190.3 500.2 L1180.2 503.6 L1170.2 500.2 L1160.2 493.6 L1150.5 500.2 L1143.5 500.2 L1136.8 496.9 L1128.4 493.6 L1120.1 490.2 L1110.1 486.9 L1101.7 478.5 L1093.4 478.5 L1080.0 478.5Z" stroke="none" fill="rgb(148,148,148)"/>
<path d="M1171.0 442.6 L1180.2 437.6 L1186.9 443.4 L1183.6 450.1 L1173.6 450.1Z" stroke="none" fill="rgb(148,148,148)"/>
<path d="M1103.4 468.5 L1110.1 468.5 L1110.9 475.2 L1104.2 475.5Z" stroke="none" fill="rgb(0,0,0)"/>
<path d="M1118.4 477.2 L1125.1 476.8 L1125.4 483.2 L1118.8 483.5Z" stroke="none" fill="rgb(0,0,0)"/>
<path d="M1130.1 457.1 L1135.1 456.8 L1135.5 461.8 L1130.5 462.1Z" stroke="none" fill="rgb(0,0,0)"/>
<path d="M1166.9 456.8 L1180.2 460.1 L1181.9 471.8 L1173.6 473.5 L1166.9 466.8Z" stroke="none" fill="rgb(0,0,0)"/>
<path d="M1190.3 440.1 L1217.0 441.8 L1218.7 461.8 L1196.9 463.5 L1191.9 455.1Z" stroke="none" fill="rgb(0,0,0)"/>
<path d="M1080.0 463.5 L1090.0 466.8" fill="none" stroke-width="6.0" stroke="rgb(224,224,224)"/>
<path d="M1098.4 463.5 L1108.4 470.2 L1118.4 483.5 L1130.1 486.9" fill="none" stroke-width="5.0" stroke="rgb(224,224,224)"/>
<path d="M1123.4 470.2 L1133.5 475.2 L1143.5 486.9 L1148.5 493.6" fill="none" stroke-width="5.0" stroke="rgb(224,224,224)"/>
<path d="M1158.5 471.8 L1166.9 483.5 L1173.6 493.6" fill="none" stroke-width="5.0" stroke="rgb(224,224,224)"/>
<path d="M1180.2 478.5 L1186.9 486.9 L1196.9 490.2 L1207.0 493.6 L1213.6 493.6" fill="none" stroke-width="5.0" stroke="rgb(224,224,224)"/>
<path d="M1183.6 470.2 L1193.6 476.8" fill="none" stroke-width="4.0" stroke="rgb(224,224,224)"/>
<path d="M1210.3 471.8 L1218.7 478.5" fill="none" stroke-width="4.0" stroke="rgb(224,224,224)"/>
<path d="M1175.2 445.4 L1177.7 445.4" fill="none" stroke-width="3.0" stroke="rgb(224,224,224)"/>
<path d="M1225.3 491.0 L1235.4 487.7 L1248.7 486.0 L1250.4 493.6 L1243.7 500.2 L1235.4 503.6 L1227.0 501.9Z" stroke="none" fill="rgb(184,184,184)"/>
<path d="M1183.6 515.3 L1190.3 520.3" fill="none" stroke-width="4.0" stroke="rgb(148,148,148)"/>
<path d="M832.6 555.9 L846.8 552.5 L866.9 552.5 L896.9 554.2 L917.0 554.2 L941.2 559.2 L945.4 586.8 L946.2 597.6 L943.7 613.5 L930.4 606.8 L913.6 615.2 L896.9 615.2 L880.2 611.8 L863.5 608.5 L850.2 601.8 L832.6 603.5 L831.0 580.1Z" stroke="none" fill="rgb(38,38,38)"/>
<path d="M833.5 556.7 L846.8 553.7 L866.9 553.7 L896.9 555.4 L917.0 555.4 L940.4 560.4 L944.6 586.8 L945.4 596.8 L930.4 602.1 L913.6 611.8 L896.9 612.2 L880.2 608.8 L863.5 605.5 L850.2 598.8 L833.5 601.0 L832.1 580.1Z" stroke="none" fill="rgb(64,64,64)"/>
<path d="M835.1 578.4 L846.8 573.4 L850.2 560.0 L863.5 555.0 L880.2 555.9 L896.9 558.4 L913.6 561.7 L925.3 566.7 L937.0 573.4 L943.7 583.4 L944.6 590.1 L930.4 590.1 L920.3 595.1 L910.3 595.1 L903.6 590.1 L893.6 588.4 L886.9 583.4 L880.2 583.4 L875.2 593.5 L866.9 596.8 L856.8 593.5 L846.8 593.5 L835.1 596.8Z" stroke="none" fill="rgb(148,148,148)"/>
<path d="M855.2 561.7 L873.6 556.7 L886.9 561.7 L900.3 570.1 L910.3 578.4 L903.6 585.1 L893.6 581.8 L880.2 578.4 L873.6 586.8 L863.5 590.1 L853.5 583.4 L850.2 571.7Z" stroke="none" fill="rgb(184,184,184)"/>
<path d="M835.1 583.4 L846.8 580.1 L850.2 590.1 L836.8 593.5Z" stroke="none" fill="rgb(184,184,184)"/>
<path d="M910.3 570.1 L917.0 570.1 L917.3 577.1 L910.6 577.1Z" stroke="none" fill="rgb(0,0,0)"/>
<path d="M879.9 586.8 L885.6 586.8 L885.6 592.1 L879.9 592.1Z" stroke="none" fill="rgb(0,0,0)"/>
<path d="M793.4 588.4 L806.7 578.4 L826.8 581.8" fill="none" stroke-width="6.0" stroke="rgb(64,64,64)"/>
<path d="M785.0 591.8 L796.7 585.1 L805.1 581.8" fill="none" stroke-width="4.0" stroke="rgb(148,148,148)"/>
<path d="M813.4 597.6 L831.0 595.1" fill="none" stroke-width="7.0" stroke="rgb(148,148,148)"/>
<path d="M815.1 596.8 L830.1 594.8" fill="none" stroke-width="4.0" stroke="rgb(224,224,224)"/>
<path d="M795.0 605.2 L813.4 603.8 L830.1 602.1" fill="none" stroke-width="4.0" stroke="rgb(148,148,148)"/>
<path d="M780.0 644.4 L790.0 635.6 L807.6 628.5" fill="none" stroke-width="12.0" stroke="rgb(64,64,64)"/>
<path d="M780.0 643.9 L790.0 635.2 L806.7 628.5" fill="none" stroke-width="8.0" stroke="rgb(148,148,148)"/>
<path d="M780.0 643.6 L790.0 634.9 L805.9 628.5" fill="none" stroke-width="4.5" stroke="rgb(224,224,224)"/>
<path d="M796.7 610.2 L805.1 618.5 L806.7 626.9" fill="none" stroke-width="3.0" stroke="rgb(148,148,148)"/>
<path d="M947.1 591.0 L963.8 591.0 L980.5 594.3 L997.2 591.0 L1013.9 584.3 L1027.2 574.2 L1040.6 567.6 L1051.5 559.2" fill="none" stroke-width="13.0" stroke="rgb(64,64,64)"/>
<path d="M947.1 590.1 L963.8 590.1 L980.5 593.5 L997.2 590.1 L1013.9 583.4 L1027.2 573.4 L1040.6 566.7 L1050.6 558.4" fill="none" stroke-width="8.0" stroke="rgb(148,148,148)"/>
<path d="M997.2 589.8 L1013.9 583.1 L1027.2 573.1 L1040.6 566.4 L1049.0 559.2" fill="none" stroke-width="4.5" stroke="rgb(224,224,224)"/>
<path d="M925.3 613.5 L940.4 605.2 L947.1 601.8 L960.4 598.5 L978.8 600.1 L988.0 606.8 L985.8 616.0 L978.8 621.9 L973.8 628.5 L963.8 633.2 L953.7 628.9 L943.7 625.5 L928.7 621.9Z" stroke="none" fill="rgb(64,64,64)"/>
<path d="M927.0 613.5 L940.4 606.8 L947.1 603.5 L960.4 600.1 L977.1 601.8 L985.5 606.8 L983.8 615.2 L977.1 620.2 L972.1 626.9 L963.8 631.0 L953.7 626.9 L943.7 623.5 L930.4 620.2Z" stroke="none" fill="rgb(148,148,148)"/>
<path d="M937.0 615.2 L950.4 611.8 L963.8 606.8 L977.1 608.5" fill="none" stroke-width="5.0" stroke="rgb(224,224,224)"/>
<path d="M953.7 618.5 L963.8 623.5 L972.1 618.5" fill="none" stroke-width="5.0" stroke="rgb(224,224,224)"/>
<path d="M1045.6 571.7 L1064.0 570.1 L1082.4 568.4 L1088.2 583.4 L1087.4 601.8 L1064.0 603.8 L1045.6 596.8 L1043.9 583.4Z" stroke="none" fill="rgb(64,64,64)"/>
<path d="M1047.3 573.4 L1064.0 571.7 L1080.7 570.1 L1085.7 583.4 L1085.7 600.1 L1064.0 601.8 L1047.3 595.1 L1045.6 583.4Z" stroke="none" fill="rgb(148,148,148)"/>
<path d="M1050.6 578.4 L1064.0 575.9 L1079.0 576.8 L1080.7 595.1 L1064.0 597.6 L1052.3 591.8Z" stroke="none" fill="rgb(184,184,184)"/>
<path d="M1045.6 611.0 L1064.0 607.7 L1079.0 611.0" fill="none" stroke-width="6.0" stroke="rgb(148,148,148)"/>
<path d="M1047.3 611.0 L1064.0 607.7 L1077.4 610.5" fill="none" stroke-width="3.0" stroke="rgb(224,224,224)"/>
<path d="M1081.5 605.2 L1097.4 606.8 L1114.1 608.5 L1130.0 605.2 L1130.0 638.6 L1114.1 637.2 L1097.4 635.6 L1082.7 631.9Z" stroke="none" fill="rgb(64,64,64)"/>
<path d="M1082.4 606.8 L1097.4 608.5 L1114.1 610.2 L1130.0 606.8 L1130.0 636.9 L1114.1 635.2 L1097.4 633.6 L1084.0 630.2Z" stroke="none" fill="rgb(148,148,148)"/>
<path d="M1085.7 611.8 L1097.4 611.8 L1114.1 613.5 L1130.0 611.8 L1130.0 630.2 L1114.1 631.0 L1097.4 629.4 L1086.5 626.0Z" stroke="none" fill="rgb(184,184,184)"/>
<path d="M1108.3 572.6 L1114.1 575.9 L1118.3 580.9" fill="none" stroke-width="3.5" stroke="rgb(148,148,148)"/>
<path d="M818.4 656.9 L843.5 656.9 L844.3 673.6 L819.3 674.5Z" stroke="none" fill="rgb(64,64,64)"/>
<path d="M846.8 660.3 L860.2 654.4 L873.6 656.9 L883.6 646.9 L896.9 645.2 L908.6 648.6 L913.6 656.9 L923.7 653.6 L930.4 660.3 L940.4 656.9 L947.1 663.6 L957.9 667.0 L957.9 689.0 L846.8 689.0 L860.2 673.6 L850.2 668.6Z" stroke="none" fill="rgb(64,64,64)"/>
<path d="M850.2 660.3 L860.2 656.9 L873.6 660.3 L880.2 667.0 L886.9 672.0 L896.9 673.6 L907.0 670.3 L913.6 660.3 L923.7 656.9 L930.4 663.6 L940.4 660.3 L947.1 667.0 L957.1 670.3 L957.1 689.0 L850.2 689.0 L863.5 673.6 L853.5 668.6Z" stroke="none" fill="rgb(148,148,148)"/>
<path d="M883.6 660.3 L886.9 651.9 L895.3 648.6 L903.6 651.1 L907.8 660.3 L903.6 668.6 L895.3 671.1 L886.9 668.6 L883.6 660.3" fill="none" stroke-width="4.5" stroke="rgb(148,148,148)"/>
<path d="M883.9 660.3 L887.3 652.3 L895.3 648.9 L903.3 651.4 L907.5 660.3 L903.3 668.3 L895.3 670.8 L887.3 668.3 L883.9 660.3" fill="none" stroke-width="2.5" stroke="rgb(224,224,224)"/>
<path d="M888.6 655.3 L902.0 655.3 L902.8 667.0 L889.4 667.8Z" stroke="none" fill="rgb(0,0,0)"/>
<path d="M866.9 668.6 L880.2 673.6 L896.9 677.0 L913.6 672.0 L923.7 663.6 L930.4 670.3 L940.4 667.0 L953.7 673.6 L955.4 689.0 L866.9 689.0Z" stroke="none" fill="rgb(184,184,184)"/>
<path d="M959.1 661.1 L972.1 659.4 L988.8 662.8 L1002.2 661.1 L1018.1 664.5 L1023.1 672.0 L1038.1 667.8 L1042.3 682.0 L1038.9 689.0 L959.1 689.0Z" stroke="none" fill="rgb(64,64,64)"/>
<path d="M959.6 663.6 L972.1 662.0 L988.8 665.3 L1002.2 663.6 L1017.2 667.0 L1022.2 673.6 L1037.3 670.3 L1040.6 682.0 L1037.3 689.0 L959.6 689.0Z" stroke="none" fill="rgb(148,148,148)"/>
<path d="M960.4 668.6 L972.1 667.0 L988.8 672.0 L1002.2 668.6 L1017.2 673.6 L1022.2 689.0 L960.4 689.0Z" stroke="none" fill="rgb(184,184,184)"/>
<path d="M780.0 685.3 L786.7 680.3 L795.0 683.7" fill="none" stroke-width="6.0" stroke="rgb(148,148,148)"/>
<path d="M780.0 685.3 L786.7 681.2 L796.7 684.5 L810.1 673.6" fill="none" stroke-width="12.0" stroke="rgb(64,64,64)"/>
<path d="M1110.9 573.4 L1115.9 579.3" fill="none" stroke-width="4.0" stroke="rgb(148,148,148)"/>
<path d="M1144.3 576.8 L1150.2 581.8" fill="none" stroke-width="4.0" stroke="rgb(64,64,64)"/>
<path d="M1080.8 606.8 L1096.7 605.2 L1113.4 606.8 L1131.0 605.2 L1135.1 620.2 L1128.4 631.9 L1113.4 635.6 L1096.7 635.6 L1081.7 631.9Z" stroke="none" fill="rgb(64,64,64)"/>
<path d="M1081.7 608.5 L1096.7 606.8 L1113.4 608.5 L1130.1 606.8 L1133.5 620.2 L1126.8 630.2 L1113.4 633.6 L1096.7 633.6 L1083.3 630.2Z" stroke="none" fill="rgb(148,148,148)"/>
<path d="M1085.0 613.5 L1096.7 611.0 L1103.4 611.8 L1103.4 623.5 L1115.1 623.5 L1115.9 613.5 L1126.8 611.8 L1128.4 620.2 L1123.4 626.9 L1113.4 630.2 L1096.7 630.2 L1086.7 626.9Z" stroke="none" fill="rgb(184,184,184)"/>
<path d="M1105.1 613.5 L1113.4 613.5 L1113.7 622.2 L1105.4 622.2Z" stroke="none" fill="rgb(0,0,0)"/>
<path d="M1136.0 606.0 L1157.7 606.0 L1158.5 618.5 L1183.6 618.5 L1186.9 626.9 L1173.6 633.6 L1158.5 635.2 L1151.8 643.6 L1146.8 655.3 L1126.8 656.9 L1125.1 646.9 L1135.1 636.9 L1136.8 620.2Z" stroke="none" fill="rgb(64,64,64)"/>
<path d="M1137.6 607.2 L1156.0 607.2 L1156.0 618.5 L1146.8 621.9 L1138.5 618.5Z" stroke="none" fill="rgb(148,148,148)"/>
<path d="M1143.5 627.7 L1156.8 624.4 L1170.2 622.2 L1182.7 620.5" fill="none" stroke-width="7.0" stroke="rgb(148,148,148)"/>
<path d="M1145.2 627.2 L1156.8 623.9 L1170.2 621.9 L1180.2 620.5" fill="none" stroke-width="3.5" stroke="rgb(224,224,224)"/>
<path d="M1128.4 649.4 L1135.1 642.7 L1143.5 635.2 L1151.0 630.2" fill="none" stroke-width="6.0" stroke="rgb(148,148,148)"/>
<path d="M1129.3 648.6 L1136.0 642.2 L1143.5 634.9" fill="none" stroke-width="3.0" stroke="rgb(224,224,224)"/>
<path d="M1140.1 610.2 L1151.8 613.5" fill="none" stroke-width="4.0" stroke="rgb(224,224,224)"/>
<path d="M1223.7 596.0 L1237.0 594.3 L1253.7 592.6 L1267.1 589.3 L1277.1 584.8 L1290.5 583.1 L1303.9 579.8 L1317.2 576.4 L1332.3 573.4" fill="none" stroke-width="15.0" stroke="rgb(64,64,64)"/>
<path d="M1223.7 595.1 L1237.0 593.5 L1253.7 591.8 L1267.1 588.4 L1277.1 583.8 L1290.5 581.8 L1303.9 578.4 L1317.2 575.1 L1330.6 571.7" fill="none" stroke-width="8.5" stroke="rgb(148,148,148)"/>
<path d="M1227.0 594.8 L1237.0 593.1 L1253.7 591.5 L1267.1 588.1 L1277.1 583.1 L1290.5 581.4 L1302.2 578.4" fill="none" stroke-width="4.0" stroke="rgb(224,224,224)"/>
<path d="M1289.7 569.2 L1297.2 574.2" fill="none" stroke-width="4.0" stroke="rgb(148,148,148)"/>
<path d="M1288.8 597.6 L1297.2 601.8" fill="none" stroke-width="5.0" stroke="rgb(64,64,64)"/>
<path d="M1318.1 551.7 L1322.2 556.7" fill="none" stroke-width="5.0" stroke="rgb(64,64,64)"/>
<path d="M1323.9 557.5 L1335.6 558.7" fill="none" stroke-width="4.0" stroke="rgb(148,148,148)"/>
<path d="M1188.6 613.5 L1196.9 611.0 L1210.3 611.0 L1223.7 611.0 L1235.4 611.8" fill="none" stroke-width="14.0" stroke="rgb(64,64,64)"/>
<path d="M1186.9 610.2 L1196.9 606.8 L1210.3 606.8 L1223.7 606.8 L1232.9 608.2" fill="none" stroke-width="8.0" stroke="rgb(148,148,148)"/>
<path d="M1196.9 606.8 L1210.3 606.5 L1223.7 606.5 L1230.4 607.7" fill="none" stroke-width="4.0" stroke="rgb(224,224,224)"/>
<path d="M1178.6 555.0 L1188.6 550.4 L1200.3 545.3 L1210.3 541.7" fill="none" stroke-width="5.0" stroke="rgb(148,148,148)"/>
<path d="M1160.2 684.5 L1173.6 681.2 L1190.3 676.2 L1200.3 671.1 L1213.6 667.8 L1223.7 664.5" fill="none" stroke-width="14.0" stroke="rgb(64,64,64)"/>
<path d="M1160.2 683.7 L1173.6 680.3 L1190.3 675.3 L1200.3 670.3 L1213.6 667.0 L1223.7 663.6" fill="none" stroke-width="8.0" stroke="rgb(148,148,148)"/>
<path d="M1163.5 683.3 L1173.6 680.0 L1190.3 675.0 L1200.3 670.0 L1213.6 666.6" fill="none" stroke-width="4.0" stroke="rgb(224,224,224)"/>
<path d="M1230.4 663.6 L1247.1 658.6 L1255.4 656.9" fill="none" stroke-width="5.0" stroke="rgb(148,148,148)"/>
<path d="M1225.3 660.3 L1228.7 663.6" fill="none" stroke-width="6.0" stroke="rgb(64,64,64)"/>
<path d="M1116.8 676.2 L1121.8 669.5 L1127.6 676.2 L1121.8 682.0Z" stroke="none" fill="rgb(184,184,184)"/>
<path d="M1105.1 673.6 L1111.7 678.7 L1113.4 685.3" fill="none" stroke-width="5.0" stroke="rgb(64,64,64)"/>
<path d="M1080.0 573.4 L1086.7 575.1 L1087.5 596.8 L1080.0 598.5Z" stroke="none" fill="rgb(148,148,148)"/>
<path d="M857.0 660.0 L858.7 666.7 L868.7 676.7 L860.4 688.4 L867.1 698.4 L873.7 703.8 L900.5 705.4 L917.2 712.1 L933.9 708.8 L957.3 707.1 L984.0 707.1 L1000.7 710.5 L1017.4 705.4 L1034.1 708.8 L1050.0 706.8 L1050.0 660.0Z" stroke="none" fill="rgb(64,64,64)"/>
<path d="M860.4 665.0 L867.1 670.0 L873.7 676.7 L867.1 683.4 L860.4 686.7 L867.1 693.4 L873.7 700.1 L880.4 693.4 L888.8 686.7 L900.5 686.7 L910.5 693.4 L922.2 695.1 L933.9 693.4 L943.9 698.4 L957.3 695.1 L960.6 690.1 L974.0 688.4 L984.0 685.1 L994.0 681.7 L1007.4 685.1 L1017.4 676.7 L1027.4 683.4 L1034.1 693.4 L1044.1 701.8 L1050.0 700.1 L1050.0 660.0 L860.4 660.0Z" stroke="none" fill="rgb(148,148,148)"/>
<path d="M873.7 666.7 L883.8 670.0 L893.8 675.0 L900.5 670.0 L910.5 670.0 L917.2 676.7 L923.9 686.7 L933.9 685.1 L943.9 690.1 L953.9 685.1 L960.6 676.7 L974.0 678.4 L984.0 675.0 L997.4 671.7 L1007.4 676.7 L1015.7 670.0 L1025.8 673.4 L1032.4 685.1 L1040.8 693.4 L1050.0 693.4 L1050.0 663.3 L873.7 660.0Z" stroke="none" fill="rgb(184,184,184)"/>
<path d="M897.1 676.7 L913.8 676.7 L914.7 690.1 L898.0 690.9Z" stroke="none" fill="rgb(64,64,64)"/>
<path d="M883.8 660.0 L900.5 660.0 L901.3 667.0 L884.6 667.5Z" stroke="none" fill="rgb(0,0,0)"/>
<path d="M917.2 662.5 L937.2 662.5 L938.1 670.4 L918.0 670.9Z" stroke="none" fill="rgb(0,0,0)"/>
<path d="M967.3 693.4 L1009.1 696.8 L1010.7 710.1 L984.0 711.8 L967.3 706.8Z" stroke="none" fill="rgb(38,38,38)"/>
<path d="M746.8 690.1 L756.8 688.4 L770.2 690.1 L781.9 688.4 L788.5 681.7 L793.6 690.1 L790.2 700.1 L793.6 710.1 L800.2 716.8 L803.6 726.8" fill="none" stroke-width="8.0" stroke="rgb(64,64,64)"/>
<path d="M746.8 690.1 L756.8 688.4 L770.2 690.1 L781.9 688.4 L788.5 681.7 L793.6 690.1 L790.2 700.1 L793.6 710.1 L800.2 716.8 L803.6 726.8" fill="none" stroke-width="6.5" stroke="rgb(148,148,148)"/>
<path d="M747.6 690.1 L756.8 688.4 L770.2 690.1 L781.9 688.4 L788.5 682.6 L793.2 690.1 L790.2 700.1 L793.6 710.1 L800.2 716.8" fill="none" stroke-width="3.6" stroke="rgb(224,224,224)"/>
<path d="M746.8 690.1 L750.1 700.1 L756.8 708.4 L766.8 713.5 L778.5 716.8 L786.9 715.1" fill="none" stroke-width="4.0" stroke="rgb(148,148,148)"/>
<path d="M756.8 696.8 L770.2 696.8 L771.0 710.1 L757.6 710.5Z" stroke="none" fill="rgb(64,64,64)"/>
<path d="M783.5 680.0 L793.6 680.0 L794.4 693.4 L784.4 693.7Z" stroke="none" fill="rgb(184,184,184)"/>
<path d="M806.9 673.4 L815.3 678.4 L820.3 686.7" fill="none" stroke-width="3.0" stroke="rgb(148,148,148)"/>
<path d="M813.6 700.1 L823.6 693.4 L833.6 691.7 L843.7 693.4 L850.4 696.8 L857.0 693.4" fill="none" stroke-width="11.0" stroke="rgb(64,64,64)"/>
<path d="M813.6 700.1 L823.6 693.4 L833.6 691.7 L843.7 693.4 L850.4 696.8 L857.0 693.4" fill="none" stroke-width="8.0" stroke="rgb(148,148,148)"/>
<path d="M815.3 699.4 L823.6 693.4 L833.6 691.7 L843.7 693.4" fill="none" stroke-width="4.0" stroke="rgb(224,224,224)"/>
<path d="M847.0 693.4 L850.4 706.8 L847.0 716.8 L840.3 723.5 L833.6 730.2 L827.0 733.5 L820.3 730.2 L813.6 723.5" fill="none" stroke-width="12.0" stroke="rgb(64,64,64)"/>
<path d="M847.0 693.4 L850.4 706.8 L847.0 716.8 L840.3 723.5 L833.6 730.2 L827.0 733.5 L820.3 730.2 L813.6 723.5" fill="none" stroke-width="9.0" stroke="rgb(148,148,148)"/>
<path d="M847.3 694.2 L850.4 706.8 L847.0 716.8 L840.3 723.5 L833.6 730.2 L827.0 733.5" fill="none" stroke-width="4.5" stroke="rgb(224,224,224)"/>
<path d="M837.0 731.8 L847.0 736.8 L857.0 740.2" fill="none" stroke-width="3.0" stroke="rgb(148,148,148)"/>
<path d="M850.4 726.8 L867.1 731.8" fill="none" stroke-width="3.0" stroke="rgb(148,148,148)"/>
<path d="M843.7 706.8 L860.4 710.1 L873.7 713.5" fill="none" stroke-width="4.0" stroke="rgb(148,148,148)"/>
<path d="M857.0 681.7 L867.1 686.7 L872.1 700.1" fill="none" stroke-width="4.0" stroke="rgb(148,148,148)"/>
<path d="M806.9 743.5 L816.9 751.9 L827.0 756.9 L840.3 758.6 L853.7 753.6 L865.4 748.5 L877.1 751.9 L887.1 751.9 L900.5 748.5 L913.8 745.2 L922.2 736.8 L932.2 733.5 L942.2 737.7 L935.5 750.2 L925.5 761.9 L917.2 768.6 L905.5 778.6 L892.1 787.0 L882.1 788.6 L873.7 783.6 L863.7 773.6 L850.4 768.6 L837.0 770.3 L823.6 766.9 L813.6 760.2Z" stroke="none" fill="rgb(38,38,38)"/>
<path d="M807.8 744.4 L816.9 752.7 L827.0 757.7 L840.3 759.4 L853.7 754.4 L865.4 749.4 L877.1 752.7 L887.1 752.7 L900.5 749.4 L913.8 746.0 L922.2 737.7 L932.2 734.3 L941.4 738.2 L934.7 749.4 L924.7 761.1 L916.3 767.8 L904.6 777.8 L891.3 782.8 L880.4 780.3 L870.4 773.6 L860.4 767.8 L850.4 765.6 L837.0 768.6 L823.6 765.2 L814.4 759.4Z" stroke="none" fill="rgb(64,64,64)"/>
<path d="M808.6 745.2 L816.9 753.6 L827.0 758.6 L840.3 760.2 L853.7 755.2 L865.4 750.2 L877.1 753.6 L887.1 753.6 L900.5 750.2 L913.8 746.9 L922.2 738.5 L932.2 735.2 L940.6 738.5 L933.9 748.5 L923.9 760.2 L915.5 766.9 L903.8 776.9 L890.4 780.3 L880.4 776.9 L870.4 770.3 L860.4 765.2 L850.4 763.6 L837.0 766.9 L823.6 763.6 L815.3 758.6Z" stroke="none" fill="rgb(148,148,148)"/>
<path d="M850.4 757.7 L867.1 758.9 L880.4 765.6 L893.8 770.3 L907.2 760.2" fill="none" stroke-width="7.0" stroke="rgb(224,224,224)"/>
<path d="M883.8 756.9 L897.1 755.2 L910.5 753.6" fill="none" stroke-width="4.0" stroke="rgb(224,224,224)"/>
<path d="M917.2 740.2 L930.5 740.2 L931.4 753.6 L920.5 760.2Z" stroke="none" fill="rgb(64,64,64)"/>
<path d="M960.6 665.0 L984.0 665.0 L1000.7 668.4 L1017.4 666.7 L1015.7 681.7 L1009.1 693.4 L1000.7 688.4 L984.0 686.7 L970.6 690.1 L962.3 685.1Z" stroke="none" fill="rgb(148,148,148)"/>
<path d="M963.9 668.4 L984.0 668.4 L1000.7 671.7 L1014.1 670.0 L1012.4 681.7 L1000.7 683.4 L984.0 681.7 L970.6 685.1Z" stroke="none" fill="rgb(184,184,184)"/>
<path d="M1020.7 670.0 L1050.0 668.4 L1050.0 696.8 L1034.1 693.4 L1020.7 683.4Z" stroke="none" fill="rgb(184,184,184)"/>
<path d="M1040.0 697.6 L1056.7 699.3 L1073.4 700.1 L1090.1 702.6 L1106.8 702.6 L1123.5 699.3 L1140.2 695.9 L1156.9 693.4 L1173.6 692.6 L1190.4 688.4 L1200.4 683.4 L1213.7 679.2 L1223.8 676.7" fill="none" stroke-width="30.0" stroke="rgb(38,38,38)"/>
<path d="M1040.0 694.7 L1056.7 696.4 L1073.4 697.3 L1090.1 699.8 L1106.8 699.8 L1123.5 696.4 L1140.2 693.1 L1156.9 690.1 L1173.6 688.7 L1190.4 683.7 L1200.4 678.7 L1213.7 675.0 L1223.8 673.0" fill="none" stroke-width="21.0" stroke="rgb(64,64,64)"/>
<path d="M1040.0 693.4 L1056.7 695.1 L1073.4 695.9 L1090.1 698.4 L1106.8 698.4 L1123.5 695.1 L1140.2 691.7 L1156.9 688.4 L1173.6 686.7 L1190.4 681.7 L1200.4 676.7 L1213.7 673.4 L1223.8 671.7" fill="none" stroke-width="12.0" stroke="rgb(148,148,148)"/>
<path d="M1040.0 693.4 L1056.7 695.1 L1073.4 695.9 L1090.1 698.4 L1106.8 698.4 L1123.5 695.1 L1140.2 691.7 L1156.9 688.4 L1173.6 686.7 L1190.4 681.7 L1200.4 676.7 L1213.7 673.4" fill="none" stroke-width="6.0" stroke="rgb(224,224,224)"/>
<path d="M1106.8 675.0 L1113.5 683.4 L1113.5 690.1" fill="none" stroke-width="8.0" stroke="rgb(64,64,64)"/>
<path d="M1113.5 678.4 L1120.2 670.0 L1128.5 676.7 L1121.9 682.6Z" stroke="none" fill="rgb(148,148,148)"/>
<circle cx="1120.7" cy="674.2" r="3.0" stroke="none" fill="rgb(224,224,224)"/>
<path d="M1167.0 693.4 L1177.0 697.1 L1185.3 700.4" fill="none" stroke-width="5.0" stroke="rgb(148,148,148)"/>
<path d="M1156.9 700.1 L1190.4 698.4 L1215.4 695.1 L1217.1 706.8 L1190.4 710.1 L1167.0 711.8Z" stroke="none" fill="rgb(38,38,38)"/>
<path d="M1123.5 698.8 L1130.2 703.8" fill="none" stroke-width="4.0" stroke="rgb(148,148,148)"/>
<path d="M1120.2 715.1 L1130.2 718.5" fill="none" stroke-width="6.0" stroke="rgb(64,64,64)"/>
<path d="M1217.1 726.8 L1220.4 735.2 L1221.3 743.5" fill="none" stroke-width="11.0" stroke="rgb(64,64,64)"/>
<path d="M1217.1 726.8 L1220.4 735.2 L1221.3 743.5" fill="none" stroke-width="7.0" stroke="rgb(148,148,148)"/>
<path d="M1217.9 730.2 L1220.4 736.8" fill="none" stroke-width="4.0" stroke="rgb(224,224,224)"/>
<path d="M1194.5 750.2 L1207.1 746.0 L1217.1 743.5 L1227.9 746.0 L1231.3 761.9 L1221.3 764.4 L1212.1 766.9 L1209.6 776.9 L1199.5 777.8 L1195.4 766.9Z" stroke="none" fill="rgb(64,64,64)"/>
<path d="M1197.0 753.6 L1207.1 750.2 L1217.1 746.9 L1225.4 748.5 L1228.8 760.2 L1220.4 761.9 L1210.4 763.6 L1207.1 770.3 L1200.4 771.9 L1197.0 763.6Z" stroke="none" fill="rgb(148,148,148)"/>
<path d="M1202.0 761.9 L1208.7 756.9 L1217.1 753.6 L1223.8 753.6" fill="none" stroke-width="5.0" stroke="rgb(224,224,224)"/>
<path d="M1040.0 733.5 L1046.7 743.5 L1050.0 750.2" fill="none" stroke-width="4.0" stroke="rgb(148,148,148)"/>
<path d="M1210.0 823.5 L1220.0 833.5 L1232.5 836.0 L1243.8 831.0 L1248.0 821.0 L1243.8 814.8" fill="none" stroke-width="10.0" stroke="rgb(64,64,64)"/>
<path d="M1210.0 823.5 L1220.0 833.5 L1232.5 836.0 L1243.8 831.0 L1247.5 821.0 L1243.0 815.5" fill="none" stroke-width="6.0" stroke="rgb(148,148,148)"/>
<path d="M1211.2 824.8 L1220.0 833.5 L1232.5 836.0 L1243.8 831.0 L1247.0 821.0" fill="none" stroke-width="3.0" stroke="rgb(224,224,224)"/>
<path d="M1235.0 853.5 L1242.5 854.8" fill="none" stroke-width="4.0" stroke="rgb(64,64,64)"/>
<path d="M1030.0 736.0 L1040.0 741.0 L1050.0 742.2" fill="none" stroke-width="5.0" stroke="rgb(64,64,64)"/>
<path d="M1040.0 748.0 L1050.0 750.5" fill="none" stroke-width="3.0" stroke="rgb(148,148,148)"/>
<path d="M1467.2 318.5 L1477.3 305.1 L1489.0 290.1 L1507.3 288.4 L1511.5 310.1 L1514.0 321.8 L1519.0 328.5 L1522.4 336.8 L1527.4 343.5 L1522.4 350.2 L1510.7 353.5 L1500.7 356.9 L1490.6 360.2 L1485.6 361.9 L1470.6 366.9 L1453.9 370.2 L1445.5 376.9 L1443.0 365.2 L1443.9 355.2 L1450.5 345.2 L1458.9 336.8Z" stroke="none" fill="rgb(64,64,64)"/>
<path d="M1480.6 293.4 L1490.6 292.6 L1491.5 300.9 L1481.4 301.8Z" stroke="none" fill="rgb(0,0,0)"/>
<path d="M1478.9 310.1 L1487.3 309.8 L1487.6 316.8 L1479.3 317.1Z" stroke="none" fill="rgb(0,0,0)"/>
<path d="M1495.6 303.4 L1509.0 302.6 L1509.8 313.4 L1496.5 313.8Z" stroke="none" fill="rgb(115,115,115)"/>
<path d="M1470.6 320.1 L1487.3 316.8 L1497.3 313.4 L1507.3 313.4 L1512.3 321.8 L1517.4 328.5 L1520.7 336.8 L1525.7 343.5 L1520.7 348.5 L1510.7 351.9 L1500.7 355.2 L1490.6 358.6 L1487.3 351.9 L1480.6 345.2 L1470.6 343.5 L1460.6 346.9 L1453.9 351.9 L1447.2 358.6 L1443.9 355.2 L1450.5 346.9 L1458.9 338.5 L1465.6 330.2Z" stroke="none" fill="rgb(148,148,148)"/>
<path d="M1487.3 318.5 L1504.0 315.1 L1510.7 323.5 L1515.7 335.2 L1514.0 343.5 L1504.0 345.2 L1497.3 338.5 L1490.6 331.8 L1483.9 328.5Z" stroke="none" fill="rgb(184,184,184)"/>
<path d="M1463.9 350.2 L1480.6 347.7 L1488.1 352.7 L1484.8 359.4 L1470.6 363.6 L1457.2 365.2Z" stroke="none" fill="rgb(38,38,38)"/>
<path d="M1423.8 361.9 L1430.5 371.9 L1427.2 381.9" fill="none" stroke-width="3.5" stroke="rgb(148,148,148)"/>
<path d="M1435.5 365.2 L1438.8 375.3" fill="none" stroke-width="3.0" stroke="rgb(148,148,148)"/>
<path d="M1418.8 383.6 L1425.5 389.5" fill="none" stroke-width="5.0" stroke="rgb(64,64,64)"/>
<path d="M1400.4 345.2 L1398.8 365.2 L1402.1 381.9 L1401.3 397.0" fill="none" stroke-width="3.0" stroke="rgb(148,148,148)"/>
<path d="M1407.1 345.2 L1408.8 358.6 L1405.4 373.6 L1407.1 392.0" fill="none" stroke-width="4.0" stroke="rgb(148,148,148)"/>
<path d="M1415.5 345.2 L1413.8 358.6 L1410.4 371.9" fill="none" stroke-width="3.0" stroke="rgb(148,148,148)"/>
<path d="M1347.0 363.6 L1353.6 355.2 L1365.3 348.5 L1378.7 344.4" fill="none" stroke-width="9.0" stroke="rgb(64,64,64)"/>
<path d="M1358.7 358.6 L1367.0 348.5 L1380.4 345.2 L1387.1 351.9 L1388.7 365.2 L1385.4 378.6 L1378.7 388.6 L1367.0 392.0 L1357.0 385.3 L1352.0 371.9 L1358.7 358.6" fill="none" stroke-width="4.0" stroke="rgb(148,148,148)"/>
<path d="M1338.6 371.9 L1345.3 368.6 L1352.0 375.3 L1348.6 381.9 L1340.3 380.3 L1338.6 371.9" fill="none" stroke-width="3.0" stroke="rgb(148,148,148)"/>
<path d="M1336.9 403.7 L1350.3 398.6 L1363.7 402.0" fill="none" stroke-width="4.0" stroke="rgb(148,148,148)"/>
<path d="M1353.6 403.7 L1365.3 408.7 L1370.4 414.0" fill="none" stroke-width="3.0" stroke="rgb(224,224,224)"/>
<path d="M1275.1 412.0 L1286.8 403.7 L1291.8 400.6" fill="none" stroke-width="5.0" stroke="rgb(148,148,148)"/>
<path d="M1398.8 405.3 L1403.8 408.7" fill="none" stroke-width="4.0" stroke="rgb(148,148,148)"/>
<path d="M1217.0 533.6 L1227.0 516.9 L1235.4 506.9" fill="none" stroke-width="4.0" stroke="rgb(148,148,148)"/>
<path d="M1257.1 533.6 L1268.8 520.3 L1280.5 506.9 L1290.5 495.2 L1297.2 486.9" fill="none" stroke-width="8.0" stroke="rgb(64,64,64)"/>
<path d="M1257.1 533.6 L1268.8 520.3 L1280.5 506.9 L1290.5 495.2 L1297.2 486.9" fill="none" stroke-width="5.0" stroke="rgb(148,148,148)"/>
<path d="M1248.7 458.5 L1257.1 463.5 L1258.8 473.5" fill="none" stroke-width="6.0" stroke="rgb(64,64,64)"/>
<path d="M1300.5 474.3 L1313.9 468.5 L1330.6 464.3 L1350.6 461.0 L1360.7 465.2" fill="none" stroke-width="5.0" stroke="rgb(148,148,148)"/>
<path d="M1303.9 473.5 L1317.2 468.5 L1330.6 465.2 L1347.3 461.8" fill="none" stroke-width="4.0" stroke="rgb(224,224,224)"/>
<path d="M1355.6 473.5 L1369.0 473.5 L1369.8 493.6 L1360.7 500.2 L1354.0 490.2Z" stroke="none" fill="rgb(38,38,38)"/>
<path d="M1367.3 450.1 L1374.0 461.8 L1370.7 476.8" fill="none" stroke-width="12.0" stroke="rgb(64,64,64)"/>
<path d="M1367.3 450.1 L1374.0 461.8 L1370.7 476.8" fill="none" stroke-width="8.0" stroke="rgb(148,148,148)"/>
<path d="M1334.8 527.8 L1337.3 530.3" fill="none" stroke-width="5.0" stroke="rgb(64,64,64)"/>
<path d="M846.0 808.0 L860.0 828.0 L886.0 840.0" fill="none" stroke-width="11.0" stroke="rgb(64,64,64)"/>
<path d="M847.0 810.0 L861.0 829.0 L886.0 840.0" fill="none" stroke-width="7.0" stroke="rgb(148,148,148)"/>
<path d="M850.0 815.0 L862.0 830.0 L884.0 839.0" fill="none" stroke-width="3.5" stroke="rgb(224,224,224)"/>
</g>
<g filter="url(#fw)" stroke-linecap="round" stroke-linejoin="round">
<rect x="280" y="210" width="1280" height="682" fill="#000"/>
<path d="M1133.8 321.2 L1137.5 325.0" fill="none" stroke-width="2.5" stroke="rgb(148,148,148)"/>
<path d="M1126.2 337.5 L1127.5 340.0" fill="none" stroke-width="2.5" stroke="rgb(148,148,148)"/>
<path d="M1130.0 328.8 L1131.2 330.5" fill="none" stroke-width="2.5" stroke="rgb(148,148,148)"/>
<path d="M1021.2 355.0 L1023.8 362.5" fill="none" stroke-width="3.0" stroke="rgb(64,64,64)"/>
<path d="M903.6 480.2 L908.6 486.9" fill="none" stroke-width="3.0" stroke="rgb(148,148,148)"/>
<circle cx="1168.5" cy="539.5" r="2.2" stroke="none" fill="rgb(148,148,148)"/>
<circle cx="1105.8" cy="584.3" r="2.0" stroke="none" fill="rgb(148,148,148)"/>
<circle cx="1109.9" cy="595.1" r="2.0" stroke="none" fill="rgb(148,148,148)"/>
<circle cx="1105.9" cy="584.3" r="2.5" stroke="none" fill="rgb(64,64,64)"/>
<circle cx="1161.9" cy="583.8" r="2.5" stroke="none" fill="rgb(64,64,64)"/>
<circle cx="1110.1" cy="595.1" r="2.5" stroke="none" fill="rgb(64,64,64)"/>
<path d="M1157.7 571.7 L1161.9 575.1" fill="none" stroke-width="2.5" stroke="rgb(148,148,148)"/>
<path d="M1135.1 600.1 L1140.1 592.6" fill="none" stroke-width="2.0" stroke="rgb(148,148,148)"/>
<path d="M1118.4 626.9 L1130.1 610.2" fill="none" stroke-width="2.5" stroke="rgb(0,0,0)"/>
<path d="M1168.5 596.8 L1180.2 590.1 L1193.6 583.4 L1203.6 576.8 L1213.6 570.1 L1218.7 565.1" fill="none" stroke-width="2.2" stroke="rgb(148,148,148)"/>
<path d="M1173.6 598.5 L1186.9 595.1 L1196.9 588.4 L1207.0 580.1" fill="none" stroke-width="2.2" stroke="rgb(148,148,148)"/>
<path d="M1213.6 576.8 L1223.7 570.1 L1233.7 565.9" fill="none" stroke-width="2.0" stroke="rgb(148,148,148)"/>
<path d="M1180.2 554.7 L1190.3 549.7 L1200.3 545.0" fill="none" stroke-width="2.5" stroke="rgb(224,224,224)"/>
<path d="M1237.0 547.0 L1247.1 544.2 L1252.1 542.5" fill="none" stroke-width="3.0" stroke="rgb(148,148,148)"/>
<path d="M1160.2 612.7 L1170.2 609.3 L1178.6 606.8" fill="none" stroke-width="3.0" stroke="rgb(148,148,148)"/>
<path d="M738.4 713.5 L743.4 726.8 L740.1 733.5 L750.1 731.8 L766.8 726.8 L780.2 730.2 L778.5 718.5" fill="none" stroke-width="2.0" stroke="rgb(148,148,148)"/>
<path d="M736.8 740.2 L750.1 746.9 L763.5 753.6" fill="none" stroke-width="2.0" stroke="rgb(148,148,148)"/>
<path d="M743.4 750.2 L756.8 758.6" fill="none" stroke-width="2.0" stroke="rgb(148,148,148)"/>
<path d="M706.7 663.3 L716.7 670.0 L710.0 680.0" fill="none" stroke-width="2.0" stroke="rgb(148,148,148)"/>
<path d="M730.1 676.7 L733.4 690.1" fill="none" stroke-width="2.0" stroke="rgb(148,148,148)"/>
<path d="M746.8 675.0 L750.1 680.0" fill="none" stroke-width="2.0" stroke="rgb(148,148,148)"/>
<path d="M723.4 698.4 L726.7 703.4" fill="none" stroke-width="2.0" stroke="rgb(148,148,148)"/>
<path d="M845.3 805.3 L848.7 809.0" fill="none" stroke-width="3.0" stroke="rgb(148,148,148)"/>
<path d="M1065.1 738.5 L1065.9 741.9" fill="none" stroke-width="2.5" stroke="rgb(224,224,224)"/>
<path d="M1462.2 374.4 L1473.9 370.2 L1487.3 363.6" fill="none" stroke-width="2.5" stroke="rgb(148,148,148)"/>
<path d="M1433.8 351.9 L1437.2 358.6" fill="none" stroke-width="2.5" stroke="rgb(148,148,148)"/>
<path d="M1420.5 348.5 L1417.1 361.9" fill="none" stroke-width="2.5" stroke="rgb(148,148,148)"/>
<path d="M1407.4 348.5 L1408.8 358.6 L1405.8 373.6" fill="none" stroke-width="1.8" stroke="rgb(224,224,224)"/>
<path d="M1358.7 358.6 L1367.0 348.5 L1380.4 345.2 L1387.1 351.9 L1388.7 365.2 L1385.4 378.6 L1378.7 388.6 L1367.0 392.0 L1357.0 385.3 L1352.0 371.9 L1358.7 358.6" fill="none" stroke-width="2.0" stroke="rgb(224,224,224)"/>
<path d="M1338.6 371.9 L1345.3 368.6 L1352.0 375.3 L1348.6 381.9 L1340.3 380.3 L1338.6 371.9" fill="none" stroke-width="1.6" stroke="rgb(224,224,224)"/>
<path d="M575.0 243.4 L593.4 238.4 L610.1 236.4 L643.5 236.4 L666.9 238.0 L690.3 240.0 L698.7 245.0 L710.4 241.7 L727.1 238.7 L743.8 237.0 L743.8 280.1 L727.1 291.8 L710.4 288.5 L703.7 275.1 L687.0 268.4 L676.9 273.4 L666.9 265.1 L653.6 268.4 L646.9 268.8 L636.8 267.1 L630.2 270.4 L620.1 267.1 L610.1 270.4 L601.8 275.5 L590.1 280.5 L580.9 276.8 L576.7 263.4 L581.7 253.4Z" stroke="none" fill="rgb(64,64,64)"/>
<path d="M732.1 280.1 L743.8 280.1 L743.8 340.3 L732.1 340.3 L728.7 311.9Z" stroke="none" fill="rgb(38,38,38)"/>
<path d="M576.7 246.7 L593.4 240.0 L610.1 237.5 L643.5 237.5 L666.9 239.2 L690.3 241.7 L698.7 246.7 L710.4 243.4 L727.1 240.0 L743.8 238.4 L743.8 255.1 L727.1 253.4 L710.4 255.1 L697.0 253.4 L687.0 250.1 L676.9 253.4 L666.9 248.4 L653.6 246.7 L650.2 258.4 L653.6 265.1 L646.9 266.8 L636.8 265.1 L630.2 268.4 L620.1 265.1 L610.1 268.4 L601.8 273.4 L590.1 278.5 L581.7 275.1 L578.4 263.4 L585.1 253.4Z" stroke="none" fill="rgb(148,148,148)"/>
<path d="M593.4 245.0 L610.1 240.9 L643.5 240.9 L666.9 241.7 L690.3 244.2 L710.4 245.9 L727.1 242.5 L742.9 241.7 L742.9 251.7 L727.1 250.1 L710.4 251.7 L697.0 250.1 L676.9 250.1 L666.9 245.9 L650.2 245.0 L646.9 256.7 L633.5 261.8 L620.1 260.9 L610.1 264.3 L600.1 269.3 L590.1 273.4 L585.1 263.4 L590.1 253.4Z" stroke="none" fill="rgb(184,184,184)"/>
<path d="M621.8 252.6 L640.2 251.7 L641.0 260.9 L622.6 262.1Z" stroke="none" fill="rgb(0,0,0)"/>
<path d="M578.4 241.7 L600.1 240.9 L600.9 253.4 L585.1 255.1Z" stroke="none" fill="rgb(64,64,64)"/>
<path d="M713.7 286.8 L728.7 275.1" fill="none" stroke-width="3.5" stroke="rgb(148,148,148)"/>
<path d="M576.7 286.8 L581.7 298.5 L588.4 308.5 L590.1 318.6" fill="none" stroke-width="3.5" stroke="rgb(148,148,148)"/>
<path d="M601.8 275.1 L615.1 278.5 L626.8 273.4 L640.2 276.8 L646.9 286.8 L650.2 296.8 L643.5 305.2 L633.5 308.5 L638.5 318.6 L633.5 325.2 L623.5 320.2 L615.1 323.6" fill="none" stroke-width="9.0" stroke="rgb(64,64,64)"/>
<path d="M601.8 275.1 L615.1 278.5 L626.8 273.4 L640.2 276.8 L646.9 286.8 L650.2 296.8 L643.5 305.2 L633.5 308.5 L638.5 318.6 L633.5 325.2 L623.5 320.2 L615.1 323.6" fill="none" stroke-width="5.5" stroke="rgb(148,148,148)"/>
<path d="M601.8 275.1 L615.1 278.5 L626.8 273.4 L640.2 276.8 L646.9 286.8 L650.2 296.8 L643.5 305.2 L633.5 308.5 L638.5 318.6 L633.5 325.2 L623.5 320.2" fill="none" stroke-width="3.0" stroke="rgb(224,224,224)"/>
<path d="M646.9 305.2 L660.2 306.9" fill="none" stroke-width="4.5" stroke="rgb(148,148,148)"/>
<path d="M676.9 315.2 L683.6 325.2 L682.0 333.6" fill="none" stroke-width="9.0" stroke="rgb(64,64,64)"/>
<path d="M676.9 315.2 L683.6 325.2 L682.0 333.6" fill="none" stroke-width="5.5" stroke="rgb(148,148,148)"/>
<path d="M677.8 316.9 L683.6 325.2 L682.3 332.8" fill="none" stroke-width="2.5" stroke="rgb(224,224,224)"/>
<path d="M646.9 328.6 L656.9 333.6 L666.9 336.9 L676.9 335.3" fill="none" stroke-width="3.5" stroke="rgb(148,148,148)"/>
<path d="M707.8 325.2 L709.5 331.1" fill="none" stroke-width="4.0" stroke="rgb(64,64,64)"/>
<path d="M640.2 345.3 L646.9 355.3 L653.6 367.0 L655.2 374.0" fill="none" stroke-width="4.0" stroke="rgb(148,148,148)"/>
<path d="M640.2 345.3 L646.9 355.3 L653.6 367.0" fill="none" stroke-width="2.0" stroke="rgb(224,224,224)"/>
<path d="M660.2 343.6 L673.6 352.0 L683.6 363.7" fill="none" stroke-width="2.0" stroke="rgb(148,148,148)"/>
<path d="M665.2 342.8 L676.9 349.5 L687.0 358.6" fill="none" stroke-width="2.0" stroke="rgb(148,148,148)"/>
<path d="M687.0 352.0 L692.0 365.3 L690.3 374.0" fill="none" stroke-width="4.0" stroke="rgb(148,148,148)"/>
<path d="M690.3 345.3 L710.4 348.6 L727.1 352.0 L737.1 348.6 L743.8 352.0 L743.8 374.0 L693.6 374.0Z" stroke="none" fill="rgb(64,64,64)"/>
<path d="M733.7 353.6 L738.8 348.6 L742.1 357.0 L740.4 367.0" fill="none" stroke-width="2.5" stroke="rgb(148,148,148)"/>
<path d="M748.8 357.0 L757.1 358.6 L760.5 367.0 L757.1 374.0" fill="none" stroke-width="2.0" stroke="rgb(148,148,148)"/>
<path d="M690.3 370.0 L707.0 363.3 L727.0 365.0 L730.4 376.7 L723.7 393.4 L713.6 398.4 L696.9 400.1Z" stroke="none" fill="rgb(64,64,64)"/>
<path d="M640.1 385.1 L651.8 378.4 L666.9 376.7 L673.6 368.4 L681.9 371.7 L685.2 381.7 L695.3 378.4 L705.3 375.0 L710.3 365.0 L717.0 365.0 L721.2 375.0 L715.6 385.9 L708.6 395.1 L698.9 398.8 L695.6 408.4 L688.9 416.8 L684.9 427.7 L676.1 418.5 L669.4 411.8 L662.7 408.4 L652.7 405.1 L645.2 398.4Z" stroke="none" fill="rgb(64,64,64)"/>
<path d="M643.5 386.7 L651.8 380.0 L666.9 378.4 L673.6 370.0 L680.2 373.4 L683.6 383.4 L693.6 380.0 L703.6 376.7 L708.6 366.7 L715.3 366.7 L718.7 375.0 L713.6 385.1 L707.0 393.4 L696.9 396.8 L693.6 406.8 L686.9 415.1 L683.6 425.2 L676.9 416.8 L670.2 410.1 L663.5 406.8 L653.5 403.4 L646.8 396.8Z" stroke="none" fill="rgb(148,148,148)"/>
<path d="M670.2 385.1 L680.2 380.0 L686.9 388.4 L696.9 386.7 L707.0 378.4 L713.6 376.7 L710.3 386.7 L700.3 393.4 L693.6 400.1 L686.9 410.1 L680.2 413.5 L673.6 403.4 L670.2 395.1Z" stroke="none" fill="rgb(184,184,184)"/>
<path d="M650.2 385.1 L663.5 381.7 L668.5 390.1 L663.5 398.4 L651.8 398.4Z" stroke="none" fill="rgb(0,0,0)"/>
<path d="M650.2 360.0 L653.5 370.0 L656.8 376.7" fill="none" stroke-width="4.0" stroke="rgb(148,148,148)"/>
<path d="M608.4 380.0 L618.4 386.7 L630.1 393.4 L641.8 403.4" fill="none" stroke-width="3.0" stroke="rgb(148,148,148)"/>
<path d="M623.4 380.0 L635.1 390.1" fill="none" stroke-width="3.0" stroke="rgb(148,148,148)"/>
<path d="M608.4 391.7 L609.2 405.1" fill="none" stroke-width="4.0" stroke="rgb(148,148,148)"/>
<path d="M651.8 418.5 L673.6 416.8 L675.2 435.2 L653.5 436.8Z" stroke="none" fill="rgb(64,64,64)"/>
<path d="M620.1 428.5 L626.8 423.5 L636.8 426.8 L646.8 430.2 L643.5 438.5 L630.1 443.5 L620.1 438.5Z" stroke="none" fill="rgb(148,148,148)"/>
<path d="M656.8 433.5 L673.6 433.5 L673.6 443.5 L656.8 443.5Z" stroke="none" fill="rgb(148,148,148)"/>
<path d="M625.1 430.2 L635.1 433.5 L638.5 438.5" fill="none" stroke-width="3.0" stroke="rgb(224,224,224)"/>
<path d="M718.7 421.8 L723.7 433.5 L727.0 443.5" fill="none" stroke-width="10.0" stroke="rgb(64,64,64)"/>
<path d="M718.7 421.8 L723.7 433.5 L727.0 443.5" fill="none" stroke-width="6.0" stroke="rgb(148,148,148)"/>
<path d="M719.5 423.5 L723.7 433.5 L726.7 442.7" fill="none" stroke-width="3.0" stroke="rgb(224,224,224)"/>
<circle cx="698.6" cy="436.8" r="2.5" stroke="none" fill="rgb(148,148,148)"/>
<path d="M733.7 400.9 L740.4 399.3" fill="none" stroke-width="4.0" stroke="rgb(148,148,148)"/>
<path d="M750.4 401.8 L752.1 411.8" fill="none" stroke-width="5.0" stroke="rgb(64,64,64)"/>
<path d="M740.4 361.7 L747.1 375.0 L757.1 376.7 L760.4 366.7 L757.1 360.0" fill="none" stroke-width="2.2" stroke="rgb(148,148,148)"/>
<path d="M656.8 450.2 L666.9 460.2 L663.5 473.6" fill="none" stroke-width="7.0" stroke="rgb(148,148,148)"/>
<path d="M657.7 451.9 L666.9 460.2 L664.4 471.9" fill="none" stroke-width="3.5" stroke="rgb(224,224,224)"/>
<path d="M728.7 495.3 L732.9 492.0 L737.0 495.3 L732.9 498.7 L728.7 495.3" fill="none" stroke-width="2.5" stroke="rgb(148,148,148)"/>
<path d="M386.9 381.7 L403.6 380.0 L415.3 376.7 L427.0 374.2 L442.0 375.9 L448.7 385.1 L442.0 394.2 L430.3 401.8 L416.9 403.8 L406.9 398.8 L393.6 393.4Z" stroke="none" fill="rgb(64,64,64)"/>
<path d="M393.6 386.7 L406.9 396.8 L416.9 401.8 L430.3 400.1 L440.3 393.4" fill="none" stroke-width="6.0" stroke="rgb(148,148,148)"/>
<path d="M415.3 381.7 L427.0 376.7 L440.3 378.4 L445.3 385.1 L440.3 391.7 L427.0 391.7 L416.9 388.4Z" stroke="none" fill="rgb(184,184,184)"/>
<path d="M447.0 379.2 L458.7 378.4 L459.5 385.1 L447.8 385.9Z" stroke="none" fill="rgb(148,148,148)"/>
<path d="M500.5 393.4 L520.5 385.1 L537.2 379.2 L550.6 374.2 L560.6 365.8 L570.6 360.0 L584.0 368.4 L587.3 379.2 L580.7 387.6 L575.6 395.9 L574.0 405.1 L543.9 403.4 L523.9 393.4Z" stroke="none" fill="rgb(64,64,64)"/>
<path d="M523.9 385.1 L537.2 381.7 L550.6 376.7 L560.6 368.4 L570.6 361.7 L580.7 370.0 L584.0 378.4 L577.3 385.1 L570.6 393.4 L560.6 395.1 L550.6 391.7 L540.6 390.1 L530.5 390.1Z" stroke="none" fill="rgb(148,148,148)"/>
<path d="M547.2 381.7 L557.3 375.0 L567.3 368.4 L575.6 373.4 L577.3 381.7 L570.6 388.4 L560.6 390.1 L550.6 387.6Z" stroke="none" fill="rgb(184,184,184)"/>
<path d="M477.1 393.4 L488.8 403.4 L497.1 413.5" fill="none" stroke-width="5.0" stroke="rgb(148,148,148)"/>
<path d="M477.1 393.4 L488.8 403.4 L497.1 413.5" fill="none" stroke-width="8.0" stroke="rgb(64,64,64)"/>
<path d="M477.1 393.4 L488.8 403.4 L497.1 413.5" fill="none" stroke-width="5.0" stroke="rgb(148,148,148)"/>
<path d="M538.9 450.2 L545.6 446.9 L553.9 453.6 L557.3 466.9 L553.9 476.9 L543.9 473.6 L540.6 463.6Z" stroke="none" fill="rgb(184,184,184)"/>
<path d="M542.2 443.5 L560.6 440.2 L577.3 443.5 L590.7 450.2" fill="none" stroke-width="11.0" stroke="rgb(64,64,64)"/>
<path d="M542.2 443.5 L560.6 440.2 L577.3 443.5 L590.7 450.2" fill="none" stroke-width="7.0" stroke="rgb(148,148,148)"/>
<path d="M560.6 440.5 L577.3 443.5 L589.0 449.4" fill="none" stroke-width="3.5" stroke="rgb(224,224,224)"/>
<path d="M547.2 476.9 L550.6 493.6 L550.6 507.0" fill="none" stroke-width="5.0" stroke="rgb(148,148,148)"/>
<path d="M473.7 493.6 L483.8 476.9 L497.1 463.6 L510.5 446.9 L517.2 436.8" fill="none" stroke-width="11.0" stroke="rgb(64,64,64)"/>
<path d="M473.7 493.6 L483.8 476.9 L497.1 463.6 L510.5 446.9 L517.2 436.8" fill="none" stroke-width="6.0" stroke="rgb(148,148,148)"/>
<path d="M483.8 476.9 L497.1 463.6 L510.5 446.9 L516.3 437.7" fill="none" stroke-width="3.0" stroke="rgb(224,224,224)"/>
<path d="M497.1 483.6 L510.5 466.9 L520.5 453.6 L527.2 440.2" fill="none" stroke-width="10.0" stroke="rgb(64,64,64)"/>
<path d="M497.1 483.6 L510.5 466.9 L520.5 453.6 L527.2 440.2" fill="none" stroke-width="5.0" stroke="rgb(148,148,148)"/>
<path d="M483.8 507.0 L493.8 493.6 L503.8 480.3" fill="none" stroke-width="4.0" stroke="rgb(148,148,148)"/>
<path d="M416.9 431.8 L427.0 440.2 L433.6 436.8 L437.0 433.5" fill="none" stroke-width="5.0" stroke="rgb(148,148,148)"/>
<path d="M415.3 453.6 L420.3 463.6" fill="none" stroke-width="4.0" stroke="rgb(148,148,148)"/>
<path d="M427.0 480.3 L437.0 475.3 L447.0 476.9 L445.3 487.0 L433.6 492.0 L425.3 488.6Z" stroke="none" fill="rgb(184,184,184)"/>
<path d="M473.7 436.8 L483.8 433.5 L490.4 440.2 L497.1 445.2 L505.5 440.2" fill="none" stroke-width="3.0" stroke="rgb(148,148,148)"/>
<path d="M356.8 488.6 L370.2 479.4 L381.9 484.5 L387.7 498.7 L386.0 509.0 L361.8 509.0 L356.0 500.3Z" stroke="none" fill="rgb(64,64,64)"/>
<path d="M361.8 490.3 L370.2 482.0 L380.2 487.0 L385.2 498.7 L383.5 509.0 L363.5 509.0 L358.5 500.3Z" stroke="none" fill="rgb(184,184,184)"/>
<path d="M381.0 529.2 L394.4 526.7 L402.7 535.9 L406.9 548.4 L402.7 557.6 L392.7 556.0 L384.4 544.3Z" stroke="none" fill="rgb(64,64,64)"/>
<path d="M383.5 530.1 L393.6 528.4 L400.2 536.8 L403.6 548.4 L400.2 555.1 L393.6 553.5 L386.9 543.4Z" stroke="none" fill="rgb(184,184,184)"/>
<path d="M366.8 503.3 L383.5 503.3 L384.4 513.4 L367.7 513.7Z" stroke="none" fill="rgb(148,148,148)"/>
<path d="M497.1 518.4 L503.8 510.0" fill="none" stroke-width="5.0" stroke="rgb(115,115,115)"/>
<path d="M737.2 613.6 L743.9 623.6 L750.6 636.9 L757.3 652.0 L760.6 658.7" fill="none" stroke-width="9.0" stroke="rgb(64,64,64)"/>
<path d="M737.2 613.6 L743.9 623.6 L750.6 636.9 L757.3 652.0 L760.6 658.7" fill="none" stroke-width="5.0" stroke="rgb(148,148,148)"/>
<path d="M737.2 613.6 L743.9 623.6 L750.6 636.9 L757.3 652.0" fill="none" stroke-width="2.5" stroke="rgb(224,224,224)"/>
<path d="M730.5 633.6 L733.9 647.0 L730.5 663.7" fill="none" stroke-width="4.0" stroke="rgb(148,148,148)"/>
<path d="M740.6 593.5 L753.9 596.8 L763.9 598.5" fill="none" stroke-width="5.0" stroke="rgb(148,148,148)"/>
<path d="M718.8 596.8 L722.2 610.2 L720.5 623.6 L717.2 636.9 L715.5 653.6" fill="none" stroke-width="4.0" stroke="rgb(148,148,148)"/>
<path d="M780.7 590.2 L794.0 586.8 L807.4 583.5" fill="none" stroke-width="3.0" stroke="rgb(148,148,148)"/>
<path d="M335.9 280.1 L343.4 288.5 L355.1 291.8 L363.5 285.1 L366.8 275.1 L371.8 266.8 L366.8 261.8 L363.5 271.8 L356.8 281.8 L348.4 285.1 L341.8 278.5Z" stroke="none" fill="rgb(148,148,148)"/>
<path d="M340.1 285.1 L350.1 290.2 L360.1 285.1" fill="none" stroke-width="3.0" stroke="rgb(224,224,224)"/>
<path d="M432.0 266.8 L443.7 271.8 L457.0 275.1 L467.1 281.8" fill="none" stroke-width="9.0" stroke="rgb(64,64,64)"/>
<path d="M432.0 266.8 L443.7 271.8 L457.0 275.1 L467.1 281.8" fill="none" stroke-width="5.0" stroke="rgb(148,148,148)"/>
<path d="M433.6 267.6 L443.7 271.8 L457.0 275.1" fill="none" stroke-width="2.5" stroke="rgb(224,224,224)"/>
<path d="M415.3 295.2 L423.6 301.8 L430.3 308.5" fill="none" stroke-width="4.0" stroke="rgb(148,148,148)"/>
<path d="M453.7 241.7 L460.4 251.7 L467.1 258.4" fill="none" stroke-width="4.0" stroke="rgb(148,148,148)"/>
<path d="M520.5 266.8 L530.5 271.8 L533.9 278.5" fill="none" stroke-width="5.0" stroke="rgb(148,148,148)"/>
<path d="M560.6 365.3 L574.0 358.6 L584.0 368.7 L580.7 374.0 L560.6 374.0Z" stroke="none" fill="rgb(64,64,64)"/>
<path d="M565.6 367.0 L574.0 362.0 L580.7 369.5 L577.3 374.0 L565.6 374.0Z" stroke="none" fill="rgb(148,148,148)"/>
<path d="M1243.7 520.3 L1255.4 508.6 L1265.4 498.6 L1273.8 493.6" fill="none" stroke-width="3.2" stroke="rgb(148,148,148)"/>
<path d="M1257.1 533.6 L1268.8 520.3 L1280.5 506.9 L1290.5 495.2" fill="none" stroke-width="2.2" stroke="rgb(224,224,224)"/>
<path d="M1247.1 547.0 L1260.4 533.6" fill="none" stroke-width="3.0" stroke="rgb(148,148,148)"/>
<path d="M1263.8 543.7 L1277.1 532.0 L1287.2 520.3" fill="none" stroke-width="3.0" stroke="rgb(148,148,148)"/>
<path d="M1248.7 458.5 L1257.1 463.5 L1258.8 473.5" fill="none" stroke-width="2.5" stroke="rgb(148,148,148)"/>
<path d="M1293.8 463.5 L1303.9 458.5 L1313.9 456.8" fill="none" stroke-width="3.0" stroke="rgb(148,148,148)"/>
<path d="M1272.1 427.6 L1285.5 428.7" fill="none" stroke-width="3.0" stroke="rgb(148,148,148)"/>
<path d="M1325.6 434.2 L1330.6 435.9" fill="none" stroke-width="3.0" stroke="rgb(148,148,148)"/>
<path d="M1345.6 425.1 L1350.6 433.4 L1354.0 443.4" fill="none" stroke-width="3.0" stroke="rgb(148,148,148)"/>
<path d="M1301.3 486.9 L1304.7 487.7" fill="none" stroke-width="3.0" stroke="rgb(148,148,148)"/>
<path d="M1313.0 488.5 L1315.5 489.4" fill="none" stroke-width="3.0" stroke="rgb(148,148,148)"/>
<path d="M1379.0 444.3 L1380.7 446.8" fill="none" stroke-width="3.0" stroke="rgb(148,148,148)"/>
<path d="M757.1 318.6 L778.8 318.6 L775.5 328.6 L765.5 331.9 L758.8 326.9Z" stroke="none" fill="rgb(64,64,64)"/>
<circle cx="772.2" cy="321.6" r="2.2" stroke="none" fill="rgb(148,148,148)"/>
<path d="M884.1 322.7 L888.3 325.2" fill="none" stroke-width="3.5" stroke="rgb(64,64,64)"/>
<path d="M723.5 515.1 L746.9 510.1 L767.0 501.7 L785.3 496.7 L786.2 550.2 L756.9 550.2 L740.2 543.5 L736.9 530.1Z" stroke="none" fill="rgb(38,38,38)"/>
<path d="M726.9 518.8 L746.9 515.4 L767.0 508.7 L784.5 502.6" fill="none" stroke-width="13.0" stroke="rgb(64,64,64)"/>
<path d="M726.9 518.4 L746.9 515.1 L767.0 508.4 L784.5 502.6" fill="none" stroke-width="9.0" stroke="rgb(148,148,148)"/>
<path d="M733.6 517.6 L746.9 514.7 L767.0 508.1 L783.7 502.6" fill="none" stroke-width="4.5" stroke="rgb(224,224,224)"/>
<path d="M743.6 521.8 L746.9 536.8 L756.9 544.3 L772.0 544.3" fill="none" stroke-width="11.0" stroke="rgb(64,64,64)"/>
<path d="M743.6 521.8 L746.9 536.8 L756.9 544.3 L770.3 544.3" fill="none" stroke-width="7.0" stroke="rgb(148,148,148)"/>
<path d="M744.4 523.4 L746.9 536.8 L756.9 544.0" fill="none" stroke-width="3.0" stroke="rgb(224,224,224)"/>
<path d="M756.9 522.6 L780.3 521.8 L781.2 536.0 L757.8 536.8Z" stroke="none" fill="rgb(0,0,0)"/>
<path d="M706.8 523.4 L710.2 535.1 L713.5 546.8" fill="none" stroke-width="6.0" stroke="rgb(64,64,64)"/>
</g>
</g>
<g fill="none" stroke="#000" stroke-width="3.7" stroke-linejoin="round" stroke-linecap="round">
<path d="M352.5 235.5 L932.5 235.0 L932.5 226.2 L942.0 226.2 L944.5 240.0 L955.0 244.5 L962.5 247.5 L975.0 245.0 L987.5 247.5 L992.5 253.8 L1000.0 252.5 L1007.5 258.8 L1015.0 260.0 L1022.5 255.0 L1027.5 258.8 L1040.0 260.0 L1053.8 261.2 L1040.0 267.0 L1027.5 274.5 L1015.0 282.5 L1002.5 291.2 L993.8 296.2 L1005.0 295.5 L1015.0 293.0 L1022.5 290.0 L1025.0 297.5 L1032.5 296.2 L1040.0 293.0 L1055.0 287.5 L1065.0 282.5 L1072.5 277.5 L1080.0 275.0 L1090.0 275.8 L1090.0 278.8 L1082.5 282.0 L1076.2 287.5 L1075.0 293.8 L1083.8 290.0 L1092.5 292.5 L1100.0 300.0 L1110.0 301.2 L1122.5 297.5 L1135.0 295.5 L1148.8 294.5 L1150.0 301.2 L1161.2 302.5 L1165.0 309.5 L1170.0 315.0 L1155.0 313.8 L1147.5 312.5 L1137.5 311.2 L1127.5 313.8 L1117.5 317.5 L1106.2 317.5 L1102.5 321.2 L1097.5 326.2 L1091.2 335.0 L1087.5 345.0 L1084.5 352.0 L1092.5 345.0 L1100.0 337.5 L1107.0 331.5 L1102.5 340.0 L1095.0 350.0 L1092.5 355.0 L1090.0 370.0 L1088.0 390.0 L1089.5 412.5 L1093.0 425.0 L1098.8 430.0 L1107.5 428.0 L1115.0 422.5 L1120.0 412.5 L1123.0 397.5 L1119.5 385.0 L1115.0 370.0 L1118.8 355.0 L1125.0 342.5 L1132.5 334.5 L1140.0 325.0 L1147.5 320.0 L1153.8 313.8 L1165.0 320.0 L1175.0 326.2 L1182.5 333.8 L1185.0 340.0 L1182.5 355.0 L1177.5 363.8 L1171.2 370.0 L1172.5 377.5 L1180.0 375.5 L1185.0 367.5 L1192.5 365.0 L1197.5 371.2 L1200.0 385.0 L1201.8 395.0 L1197.5 405.0 L1190.0 410.0 L1185.0 420.0 L1180.0 427.5 L1190.0 432.5 L1200.0 435.5 L1215.0 431.5 L1235.0 424.0 L1255.0 415.0 L1272.5 403.0 L1275.5 393.0 L1273.8 387.5 L1272.5 387.5 L1285.0 385.0 L1302.5 388.0 L1317.5 385.5 L1331.2 380.0 L1336.2 372.5 L1330.0 365.0 L1336.2 358.8 L1345.0 351.2 L1352.5 345.0 L1360.0 340.8 L1432.5 339.2 L1435.0 332.5 L1440.0 331.2 L1447.5 330.0 L1450.0 325.0 L1456.2 317.5 L1457.5 310.0 L1461.2 300.0 L1465.0 293.8 L1472.5 285.0 L1480.0 275.8 L1483.8 277.5 L1485.0 281.8 L1498.8 277.5 L1503.8 278.8 L1511.2 286.2 L1512.0 320.0 L1517.5 325.0 L1518.8 335.0 L1525.0 338.8 L1527.0 345.0 L1522.5 349.2 L1512.5 351.8 L1500.0 358.0 L1490.0 355.5 L1487.5 362.5 L1480.0 367.5 L1470.0 372.5 L1465.0 375.0 L1457.5 378.8 L1452.5 385.0 L1447.5 393.0 L1446.2 401.2 L1447.5 395.5 L1449.0 400.0 L1449.5 404.0 L1445.0 407.0 L1441.5 410.5 L1442.0 414.0 L1446.0 414.0 L1449.0 417.0 L1451.0 421.0 L1452.5 424.5 L1454.5 427.0 L1460.0 427.5 L1464.0 426.5 L1465.5 423.0 L1464.0 419.0 L1460.0 417.5 L1464.0 420.0 L1464.0 425.0 L1460.0 429.0 L1454.0 430.0 L1450.0 428.0 L1445.0 429.0 L1440.0 430.8 L1433.0 434.2 L1426.2 436.4 L1413.0 438.4 L1402.0 438.8 L1396.0 441.2 L1388.0 443.8 L1383.5 446.5 L1380.0 450.0 L1375.0 456.0 L1379.0 460.0 L1380.5 465.0 L1380.0 472.0 L1378.0 478.0 L1374.0 484.5 L1369.0 490.0 L1364.0 496.0 L1360.5 500.5 L1356.0 495.5 L1351.0 490.0 L1348.0 484.0 L1345.5 479.5 L1344.5 484.0 L1346.0 489.0 L1349.0 494.5 L1351.0 500.0 L1355.5 504.2 L1358.0 509.0 L1358.5 515.0 L1358.5 519.0 L1358.5 513.0 L1356.5 520.0 L1352.0 529.0 L1347.0 538.0 L1342.0 546.0 L1339.0 552.0 L1340.0 560.0 L1342.0 570.0 L1346.0 580.0 L1349.0 589.0 L1347.5 598.0 L1340.0 601.8 L1332.5 608.0 L1325.0 613.0 L1315.0 615.5 L1305.0 620.5 L1297.5 628.0 L1293.8 634.2 L1285.0 634.2 L1277.5 640.5 L1270.0 650.5 L1262.5 661.0 L1250.0 668.5 L1240.0 673.5 L1232.5 683.5 L1227.5 693.5 L1223.8 706.0 L1222.5 716.0 L1224.2 733.5 L1227.5 748.5 L1232.5 763.5 L1238.8 778.5 L1245.0 796.0 L1250.0 811.0 L1252.5 823.5 L1252.0 841.0 L1248.8 856.0 L1242.5 863.0 L1232.5 864.0 L1227.5 861.0 L1222.5 847.2 L1217.5 843.5 L1212.5 833.5 L1207.5 823.5 L1206.2 818.5 L1200.0 808.5 L1196.2 796.0 L1193.8 786.0 L1196.2 771.0 L1193.8 761.0 L1185.0 752.2 L1177.5 741.0 L1167.5 734.0 L1157.5 737.2 L1147.5 742.2 L1138.8 743.5 L1137.5 736.0 L1130.0 728.5 L1120.0 724.8 L1110.0 726.5 L1097.5 728.0 L1085.0 729.8 L1075.0 726.5 L1062.5 726.5 L1053.8 728.5 L1050.0 733.5 L1060.0 736.0 L1052.5 746.0 L1062.5 757.2 L1056.2 762.2 L1047.5 752.2 L1042.5 751.0 L1036.2 759.8 L1030.0 756.0 L1022.5 757.2 L1016.2 752.2 L1010.0 744.8 L1001.2 741.0 L995.0 747.2 L985.0 746.0 L975.0 742.2 L963.8 742.2 L950.0 747.2 L937.5 753.5 L925.0 763.5 L912.5 771.0 L900.0 778.5 L890.0 787.2 L885.0 796.0 L882.5 806.0 L882.5 816.0 L886.2 828.5 L890.0 841.0 L875.0 840.5 L865.0 837.2 L850.0 832.2 L846.2 821.0 L842.5 811.0 L841.2 803.5 L835.0 796.0 L828.8 783.5 L822.5 773.5 L817.5 761.0 L810.0 751.0 L800.0 742.2 L790.0 741.5 L782.5 740.5 L775.0 743.5 L771.2 753.5 L767.5 761.0 L762.5 763.0 L755.0 759.8 L745.0 754.8 L736.2 747.2 L732.5 736.0 L728.8 723.5 L722.5 717.2 L712.5 709.8 L705.0 701.0 L698.8 694.8 L695.0 688.5 L691.2 685.2 L659.1 689.3 L659.1 701.2 L598.9 701.2 L520.2 670.6 L522.1 664.5 L471.6 669.6 L470.0 661.0 L465.0 650.5 L455.0 639.2 L445.0 636.8 L437.5 629.2 L425.0 624.2 L415.0 618.5 L400.0 616.8 L397.5 613.0 L395.0 600.5 L390.0 593.0 L382.5 585.5 L375.0 575.5 L370.0 565.5 L370.0 555.5 L362.5 548.0 L358.8 538.0 L355.0 525.5 L347.5 523.0 L342.5 513.0 L335.0 503.0 L330.0 493.0 L327.5 480.5 L322.5 470.5 L316.2 460.5 L317.5 453.0 L321.2 438.0 L321.2 420.0 L317.5 410.0 L315.0 397.5 L321.2 375.0 L323.8 352.5 L325.0 327.5 L327.5 308.8 L326.2 300.0 L323.8 287.5 L320.0 275.0 L313.8 265.0 L311.2 252.0 L322.5 255.0 L340.0 258.0 L348.8 258.8 L347.0 250.0 L350.0 241.2Z"/>
<path d="M473.3 235.5 L473.3 314.6 M473.2 313.8 L480.0 317.5 L483.8 322.5 L481.2 328.8 L476.2 340.0 L468.8 357.5 L475.0 362.5 L473.8 370.0 M473.5 363.3 L473.5 420.0 M327.5 308.0 L340.0 308.8 L347.5 313.8 L351.2 321.2 L360.0 325.0 L372.5 323.0 L385.0 323.8 L397.5 321.2 L410.0 318.0 L425.0 315.0 L440.0 314.2 L473.2 313.8 M320.5 420.0 L599.3 420.0 M411.0 420.0 L411.0 499.0 L524.0 604.5 M536.4 420.0 L536.4 572.8 M536.2 573.0 L525.0 574.2 L521.2 578.0 L522.5 593.0 L523.8 603.0 L530.0 618.0 L533.8 624.2 L526.2 635.5 L521.2 645.5 L520.0 661.0 M530.0 661.0 L526.2 664.8 L523.8 668.5 M641.5 446.3 L641.5 701.2 M599.3 351.5 L599.3 446.3 L641.5 446.3 M599.3 340.9 L746.6 340.9 M746.6 235.5 L746.6 446.3 M599.3 446.3 L788.7 446.3 L788.7 551.7 M641.5 551.7 L945.0 551.7 M768.7 551.7 L768.7 564.9 L831.8 564.9 L831.8 616.1 M767.9 564.9 L767.4 683.5 L692.5 683.5 M746.6 316.1 L904.2 316.1 M746.6 393.6 L863.4 393.6 M788.7 472.7 L930.3 472.7 M493.8 235.5 L493.8 261.2 L500.0 273.8 L510.0 282.5 L520.0 292.5 L528.8 297.5 L526.2 315.0 L525.0 325.0 L530.0 327.5 L537.5 322.5 L542.5 332.5 L547.5 342.5 L555.0 350.0 L560.0 357.5 L572.5 352.5 L590.0 351.2 L593.8 347.5 L599.2 353.0 M890.0 235.5 L892.5 247.5 L895.0 260.0 L897.5 272.5 L900.0 287.5 L901.2 300.0 L902.5 315.0 L898.8 322.5 L901.2 327.5 L907.5 331.2 L908.0 345.0 L908.0 380.0 L902.5 381.2 L903.8 387.5 L906.2 390.0 L905.0 400.0 L910.0 410.0 L913.8 422.5 L917.5 438.0 M860.0 393.2 L863.8 393.2 L868.8 396.2 L873.8 400.5 L880.0 398.8 L887.5 398.8 L895.0 401.2 L902.5 402.5 L905.5 401.2 M906.5 380.4 L1016.6 380.4 M993.8 296.2 L993.0 310.0 L987.5 315.0 L981.2 322.5 L983.0 332.5 L982.5 345.0 L987.5 351.2 L995.0 355.0 L1002.5 362.5 L1010.0 367.5 L1015.0 375.0 L1016.2 380.0 L1017.5 387.5 L1016.2 392.5 L1020.0 400.0 L1025.0 405.0 L1030.0 410.0 L1036.2 415.0 L1038.8 422.5 L1035.0 430.0 L1027.5 435.0 L1022.5 438.0 M1030.0 407.0 L1088.0 407.0 M1036.2 300.0 L1040.0 305.0 L1055.0 309.5 L1067.5 313.8 L1077.5 316.2 L1083.8 320.0 L1086.2 327.5 L1090.0 335.0 M1115.0 425.8 L1152.5 426.2 L1180.0 427.5 M1151.5 426.6 L1151.5 496.4 M1241.7 420.0 L1241.7 480.1 L1341.5 480.1 M1257.7 412.9 L1257.7 420.0 L1350.3 420.0 M917.5 438.0 L918.8 448.0 L920.0 455.0 L925.0 463.0 L932.5 473.0 L938.8 478.0 L936.2 484.2 L942.5 491.8 L945.0 495.5 L945.0 563.0 L947.5 568.0 L948.8 588.0 L948.8 643.0 L957.5 643.0 L957.5 658.0 M1021.2 438.0 L1022.5 445.5 L1018.8 453.0 L1015.0 461.8 M920.0 455.0 L1007.5 456.0 L1015.0 461.8 L1012.5 470.5 L1011.2 478.0 L1017.5 486.8 L1027.5 498.0 L1035.0 503.0 L1038.8 509.2 L1035.0 518.0 L1040.0 524.2 L1047.5 530.5 L1052.5 536.8 L1053.8 545.5 L1058.8 550.5 L1061.2 555.5 L1058.8 563.0 L1055.0 568.0 L1050.0 575.5 L1048.8 583.0 L1043.8 593.0 L1037.5 603.0 L1035.0 610.5 L1031.2 618.0 L1025.0 625.5 L1020.0 633.0 L1017.5 643.0 L1018.8 653.0 L1020.0 661.0 M945.0 564.8 L1035.0 565.5 L1038.8 568.0 L1040.0 570.5 L1033.8 578.0 L1048.8 578.0 M832.0 616.8 L840.0 620.5 L847.5 621.8 L852.5 625.5 L861.2 628.0 L868.8 629.2 L875.0 634.2 L882.5 633.0 L890.0 636.8 L897.5 634.2 L907.5 638.0 L915.0 634.2 L922.5 632.5 L932.5 631.8 L940.0 635.5 L948.8 641.8 M1094.4 426.8 L1094.4 459.5 M1095.0 438.0 L1095.0 491.8 L1091.2 498.0 L1093.8 505.5 L1088.8 515.5 L1083.8 525.5 L1081.2 531.8 M1061.2 555.5 L1061.2 550.5 L1065.0 545.5 L1073.8 548.0 L1076.2 540.5 L1082.5 536.8 L1081.2 531.8 L1090.0 526.8 L1100.0 529.2 L1107.5 525.5 L1112.5 528.0 L1120.0 521.8 L1126.2 525.5 L1132.5 518.0 L1140.0 508.0 L1150.0 503.0 L1151.2 496.8 M1151.5 495.0 L1146.0 505.0 L1140.0 507.0 M1151.5 496.0 L1159.0 496.0 L1163.0 502.0 L1168.0 505.0 L1174.0 507.0 L1180.0 507.5 L1186.0 508.0 L1191.0 505.0 L1194.0 508.0 L1199.0 514.0 L1204.0 513.0 L1206.0 507.0 L1207.0 503.0 L1210.0 499.0 L1214.0 499.0 L1216.0 494.0 L1221.0 489.0 L1227.0 487.0 L1232.0 483.0 L1235.0 478.0 L1237.0 471.0 L1239.0 463.0 L1240.0 455.0 M1263.5 479.5 L1263.5 494.0 L1270.0 489.0 L1275.0 485.5 L1280.0 484.0 L1285.0 484.0 L1289.0 487.0 L1294.0 492.0 L1298.0 495.2 L1300.5 492.0 L1300.0 487.0 L1305.0 492.0 L1310.0 497.0 L1316.0 500.0 L1317.0 504.0 L1312.0 509.0 L1309.0 513.0 L1310.0 517.0 M1199.0 514.0 L1198.0 520.0 L1200.0 525.0 L1204.0 531.0 L1208.0 536.0 L1212.0 539.0 L1218.0 541.0 L1225.0 543.0 L1232.0 541.0 L1240.0 540.0 L1246.0 538.0 L1248.0 533.0 L1252.0 528.0 L1256.0 521.0 L1259.0 514.0 L1261.0 509.5 L1266.0 514.0 L1270.0 511.0 L1274.0 505.0 L1280.0 501.0 L1285.0 495.0 L1287.8 487.0 M1217.5 546.0 L1210.0 541.0 L1200.0 548.0 L1190.0 554.2 L1177.5 561.0 M1051.2 566.0 L1083.8 565.5 L1083.8 560.5 L1140.0 561.8 L1212.5 562.2 L1340.0 562.8 M1284.2 563.9 L1339.0 563.6 M1217.5 563.0 L1215.0 568.0 L1205.0 574.2 L1195.0 578.0 L1185.0 583.0 L1177.5 588.0 L1170.0 591.8 L1163.8 598.0 L1161.2 603.5 M1038.2 603.0 L1161.2 603.5 L1182.5 604.2 M1083.8 603.5 L1080.0 638.0 L1076.2 661.0 M1133.8 603.5 L1140.0 638.0 L1145.0 661.0 M957.5 658.0 L1018.0 659.2 M1182.5 610.5 L1190.0 605.0 L1200.0 600.5 L1230.0 600.5 L1236.2 609.2 L1258.8 610.0 L1283.8 633.0 L1296.2 631.8 M1182.5 610.5 L1183.8 614.2 L1192.5 623.0 L1200.0 635.5 L1210.0 645.5 L1217.5 653.0 L1223.8 661.0 M956.2 661.0 L957.5 683.5 L963.8 693.5 L967.5 708.5 L963.8 726.0 L963.8 742.2 M1020.0 661.0 L1022.5 673.5 L1017.5 679.8 L1012.5 691.0 L1007.5 701.0 L1008.0 709.8 L1047.5 711.0 L1048.8 721.0 L1050.0 728.5 L1053.8 733.5 M1076.2 661.0 L1075.0 726.5 M1093.8 726.5 L1096.2 719.8 L1092.5 709.8 L1145.0 708.5 M1142.5 661.0 L1148.8 676.0 L1146.2 686.0 L1145.0 708.5 L1150.0 718.0 L1206.2 722.2 L1206.2 727.2 L1210.0 727.2 L1210.0 714.8 L1221.2 716.5 M1225.0 661.0 L1230.0 671.0 L1236.2 679.8 M1300.0 419.7 L1350.0 419.7 L1354.5 426.0 L1356.0 431.0 L1360.0 434.0 L1364.0 436.5 L1383.0 446.5 M1364.0 436.5 L1360.0 440.0 L1359.0 444.0 L1355.0 447.0 L1356.0 450.0 L1353.5 454.0 L1356.0 458.0 M1393.0 370.0 L1394.0 399.0 L1389.3 418.2 L1388.0 440.0 L1385.0 445.0 M1419.0 370.0 L1413.0 382.0 L1412.0 392.0 L1410.0 399.5 M1394.3 399.5 L1437.0 401.0 L1439.5 398.5 L1444.0 396.2 L1447.5 395.7 M1442.0 370.0 L1442.5 383.0 L1447.0 389.0 L1448.0 394.0 M1389.3 418.5 L1435.0 419.0 L1436.0 424.0 L1434.0 428.0 L1433.5 432.0 M1426.2 419.3 L1426.2 436.4 M1391.2 340.0 L1391.2 355.0 L1390.0 377.5 L1393.0 390.0 L1391.2 402.5 M1432.5 339.2 L1428.8 350.0 L1422.5 357.5 L1417.5 370.0 L1412.5 385.0 L1410.0 398.8 M1440.0 331.2 L1441.2 355.0 L1443.8 375.0 L1446.2 390.0 M1363.0 438.5 L1359.0 443.0 L1355.0 446.5 L1356.0 450.0 L1353.5 454.0 L1355.0 458.0 L1360.0 463.0 L1365.0 468.0 L1359.0 472.0 L1354.0 475.0 L1349.0 477.0 L1345.5 479.2 M1342.0 479.0 L1346.0 476.5 L1350.0 477.0 M1342.0 479.0 L1342.5 515.0 L1354.0 515.0 L1358.5 515.0"/>
</g>
<path d="M537.6 662.0 L545.1 663.7" fill="none" stroke="#b3b3b3" stroke-width="8.0" stroke-linecap="round" stroke-linejoin="round"/>
<path d="M503.3 620.2 L513.4 626.9 L516.7 636.9" fill="none" stroke="#b3b3b3" stroke-width="8.0" stroke-linecap="round" stroke-linejoin="round"/>
<path d="M474.6 564.3 L476.7 576.0" fill="none" stroke="#4d4d4d" stroke-width="1.5" stroke-linecap="round" stroke-linejoin="round"/>
<path d="M454.5 558.5 L457.9 560.1" fill="none" stroke="#b3b3b3" stroke-width="3.0" stroke-linecap="round" stroke-linejoin="round"/>
<path d="M530.5 630.3 L537.2 625.3 L547.2 623.6" fill="none" stroke="#b3b3b3" stroke-width="3.0" stroke-linecap="round" stroke-linejoin="round"/>
<path d="M495.5 615.3 L503.8 622.0 L512.2 628.6 L517.2 637.0 L515.5 643.7" fill="none" stroke="#b3b3b3" stroke-width="7.0" stroke-linecap="round" stroke-linejoin="round"/>
<path d="M467.1 556.8 L473.7 563.5 L477.1 573.5 L482.1 583.5 L488.8 593.6 L492.1 601.9" fill="none" stroke="#b3b3b3" stroke-width="4.0" stroke-linecap="round" stroke-linejoin="round"/>
<path d="M352.0 240.0 L347.0 247.0 L355.5 249.5 L357.0 256.2 L360.5 262.5 L355.5 268.8 L358.8 275.0 L354.5 282.0 L348.8 283.0 L346.2 278.0 L351.2 273.0" fill="none" stroke="#000" stroke-width="7.5" stroke-linecap="round" stroke-linejoin="round"/>
<path d="M311.2 252.0 L322.5 255.0 L340.0 258.0 L348.8 258.8" fill="none" stroke="#000" stroke-width="3.5" stroke-linecap="round" stroke-linejoin="round"/>
<circle cx="327.5" cy="290.0" r="3.0" fill="#000"/>
<circle cx="327.5" cy="298.8" r="3.0" fill="#000"/>
<path d="M356.2 524.2 L362.5 528.0 L361.2 534.2 L366.2 538.0" fill="none" stroke="#000" stroke-width="5.0" stroke-linecap="round" stroke-linejoin="round"/>
<path d="M1335.0 484.0 L1326.0 492.0 L1326.0 500.0 L1329.0 510.0 L1330.0 518.0" fill="none" stroke="#000" stroke-width="4.5" stroke-linecap="round" stroke-linejoin="round"/>
<path d="M1336.0 486.0 L1333.0 494.0 L1335.0 502.0 L1335.0 510.0 L1338.0 517.0" fill="none" stroke="#000" stroke-width="4.5" stroke-linecap="round" stroke-linejoin="round"/>
<path d="M1314.0 513.0 L1330.0 523.0" fill="none" stroke="#000" stroke-width="4.5" stroke-linecap="round" stroke-linejoin="round"/>
<path d="M1317.0 525.0 L1329.0 533.0 L1332.0 529.0" fill="none" stroke="#000" stroke-width="4.5" stroke-linecap="round" stroke-linejoin="round"/>
<path d="M1320.0 538.0 L1330.0 546.0 L1332.0 541.0" fill="none" stroke="#000" stroke-width="4.5" stroke-linecap="round" stroke-linejoin="round"/>
<path d="M1316.0 545.0 L1328.0 553.0 L1336.0 556.0" fill="none" stroke="#000" stroke-width="4.5" stroke-linecap="round" stroke-linejoin="round"/>
<path d="M1336.0 510.0 L1341.0 523.0 L1343.0 520.0" fill="none" stroke="#000" stroke-width="4.5" stroke-linecap="round" stroke-linejoin="round"/>
<path d="M1345.0 529.0 L1338.0 548.0" fill="none" stroke="#000" stroke-width="4.5" stroke-linecap="round" stroke-linejoin="round"/>
<path d="M1329.0 501.0 L1330.0 512.0 L1334.0 509.0" fill="none" stroke="#000" stroke-width="4.5" stroke-linecap="round" stroke-linejoin="round"/>
<path d="M1342.0 500.0 L1344.0 513.0 L1354.0 513.0" fill="none" stroke="#000" stroke-width="4.5" stroke-linecap="round" stroke-linejoin="round"/>
<path d="M1321.0 569.0 L1321.5 580.0 L1336.0 576.0" fill="none" stroke="#000" stroke-width="4.5" stroke-linecap="round" stroke-linejoin="round"/>
<path d="M1330.0 572.0 L1336.0 583.0 L1340.0 588.0" fill="none" stroke="#000" stroke-width="4.5" stroke-linecap="round" stroke-linejoin="round"/>
<path d="M1321.2 570.5 L1331.2 576.8 L1338.8 585.5 L1343.8 578.0" fill="none" stroke="#000" stroke-width="4.0" stroke-linecap="round" stroke-linejoin="round"/>
<path d="M1315.0 590.5 L1325.0 598.0 L1335.0 603.0 L1330.0 610.5 L1320.0 608.0 L1312.5 600.5" fill="none" stroke="#000" stroke-width="4.0" stroke-linecap="round" stroke-linejoin="round"/>
<path d="M1454.0 428.0 L1460.0 427.2 L1464.0 426.0 L1465.5 422.5 L1464.0 419.0 L1460.0 417.2" fill="none" stroke="#000" stroke-width="4.5" stroke-linecap="round" stroke-linejoin="round"/>
<circle cx="1450.0" cy="436.5" r="3.5" fill="#000"/>
<circle cx="1462.0" cy="438.5" r="3.5" fill="#000"/>
<path d="M1434.0 430.0 L1442.0 429.0 L1448.0 427.0" fill="none" stroke="#000" stroke-width="4.0" stroke-linecap="round" stroke-linejoin="round"/>
<path d="M1384.0 449.0 L1400.0 444.0 L1416.0 441.5 L1425.0 444.5" fill="none" stroke="#000" stroke-width="4.5" stroke-linecap="round" stroke-linejoin="round"/>
<path d="M1385.0 454.0 L1400.0 450.0 L1415.0 447.0 L1424.0 445.0" fill="none" stroke="#000" stroke-width="4.5" stroke-linecap="round" stroke-linejoin="round"/>
<path d="M1387.0 457.0 L1400.0 455.0 L1410.0 451.0" fill="none" stroke="#000" stroke-width="4.0" stroke-linecap="round" stroke-linejoin="round"/>
<circle cx="1197.5" cy="791.0" r="5.0" fill="#000"/>
<circle cx="1206.2" cy="818.0" r="2.5" fill="#000"/>
<circle cx="1230.0" cy="861.0" r="3.0" fill="#000"/>
<path d="M936.2 743.5 L941.2 741.0" fill="none" stroke="#000" stroke-width="4.0" stroke-linecap="round" stroke-linejoin="round"/>
<path d="M901.2 771.0 L910.0 769.8" fill="none" stroke="#000" stroke-width="4.0" stroke-linecap="round" stroke-linejoin="round"/>
<path d="M880.0 803.5 L883.8 808.5" fill="none" stroke="#000" stroke-width="4.0" stroke-linecap="round" stroke-linejoin="round"/>
<path d="M1035.0 729.8 L1040.0 726.5 L1047.5 728.5 L1050.0 733.5 L1042.5 734.8 L1036.2 733.5 L1035.0 729.8" fill="none" stroke="#000" stroke-width="3.5" stroke-linecap="round" stroke-linejoin="round"/>
<circle cx="1048.8" cy="734.8" r="4.0" fill="#000"/>
<path d="M1083.8 716.0 L1085.0 728.0" fill="none" stroke="#000" stroke-width="4.0" stroke-linecap="round" stroke-linejoin="round"/>
<path d="M1136.2 340.0 L1138.8 345.0" fill="none" stroke="#000" stroke-width="5.0" stroke-linecap="round" stroke-linejoin="round"/>
<path d="M1090.0 350.0 L1105.0 332.5" fill="none" stroke="#000" stroke-width="4.0" stroke-linecap="round" stroke-linejoin="round"/>
<circle cx="1100.0" cy="298.8" r="3.0" fill="#000"/>
<circle cx="1191.2" cy="878.0" r="1.0" fill="#f9e100"/>
<circle cx="1217.5" cy="877.5" r="1.0" fill="#f9e100"/>
<circle cx="1208.0" cy="879.0" r="1.2" fill="#7cae74"/>
<circle cx="1222.5" cy="875.5" r="1.2" fill="#7cae74"/>
<circle cx="1226.2" cy="875.0" r="1.2" fill="#1f73d1"/>
<circle cx="1232.0" cy="874.5" r="1.2" fill="#1f73d1"/>
<circle cx="1237.5" cy="872.2" r="1.2" fill="#1f73d1"/>
<circle cx="1219.5" cy="876.5" r="1.0" fill="#f0a800"/>
<text x="1571" y="403" class="lt">Relative pop. size</text>
<rect x="1571" y="417.00" width="25" height="25.76" fill="#4d4d4d"/>
<text x="1607" y="437.40" class="lg">excl.-severe</text>
<rect x="1571" y="442.46" width="25" height="25.76" fill="#b3b3b3"/>
<text x="1607" y="462.86" class="lg">excl.-moderate</text>
<rect x="1571" y="467.92" width="25" height="25.76" fill="#1f73d1"/>
<text x="1607" y="488.32" class="lg">0-10</text>
<rect x="1571" y="493.38" width="25" height="25.76" fill="#478fa0"/>
<text x="1607" y="513.78" class="lg">10-20</text>
<rect x="1571" y="518.84" width="25" height="25.76" fill="#7cae74"/>
<text x="1607" y="539.24" class="lg">20-30</text>
<rect x="1571" y="544.30" width="25" height="25.76" fill="#b0cf41"/>
<text x="1607" y="564.70" class="lg">30-40</text>
<rect x="1571" y="569.76" width="25" height="25.76" fill="#e6ef17"/>
<text x="1607" y="590.16" class="lg">40-50</text>
<rect x="1571" y="595.22" width="25" height="25.76" fill="#f9e100"/>
<text x="1607" y="615.62" class="lg">50-60</text>
<rect x="1571" y="620.68" width="25" height="25.76" fill="#f0a800"/>
<text x="1607" y="641.08" class="lg">60-70</text>
<rect x="1571" y="646.14" width="25" height="25.76" fill="#e67100"/>
<text x="1607" y="666.54" class="lg">70-80</text>
<rect x="1571" y="671.60" width="25" height="25.76" fill="#dd3a00"/>
<text x="1607" y="692.00" class="lg">80-90</text>
<rect x="1571" y="697.06" width="25" height="25.76" fill="#d00000"/>
<text x="1607" y="717.46" class="lg">90-100</text>
</svg>
</body></html>
